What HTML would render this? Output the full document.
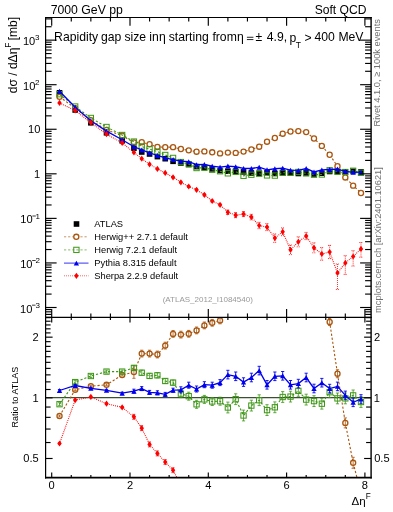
<!DOCTYPE html>
<html><head><meta charset="utf-8"><style>
html,body{margin:0;padding:0;background:#fff;width:393px;height:512px;overflow:hidden}
svg{display:block;will-change:transform}
text{font-family:'Liberation Sans',sans-serif}
</style></head><body>
<svg width="393" height="512" viewBox="0 0 393 512">
<rect width="393" height="512" fill="#fff"/>
<defs><clipPath id="cm"><rect x="45.5" y="17.3" width="325.6" height="300.1"/></clipPath><clipPath id="cr"><rect x="45.5" y="317.4" width="325.6" height="160.2"/></clipPath></defs>
<rect x="56.73" y="90" width="5.6" height="5.6" fill="#000"/>
<rect x="72.39" y="107.2" width="5.6" height="5.6" fill="#000"/>
<rect x="88.05" y="120" width="5.6" height="5.6" fill="#000"/>
<rect x="103.71" y="130" width="5.6" height="5.6" fill="#000"/>
<rect x="119.37" y="138" width="5.6" height="5.6" fill="#000"/>
<rect x="131.12" y="145.4" width="5.6" height="5.6" fill="#000"/>
<rect x="138.94" y="149.2" width="5.6" height="5.6" fill="#000"/>
<rect x="146.77" y="151.2" width="5.6" height="5.6" fill="#000"/>
<rect x="154.6" y="153.8" width="5.6" height="5.6" fill="#000"/>
<rect x="162.44" y="155.9" width="5.6" height="5.6" fill="#000"/>
<rect x="170.26" y="158.5" width="5.6" height="5.6" fill="#000"/>
<rect x="178.09" y="160.2" width="5.6" height="5.6" fill="#000"/>
<rect x="185.93" y="161.7" width="5.6" height="5.6" fill="#000"/>
<rect x="193.75" y="163.8" width="5.6" height="5.6" fill="#000"/>
<rect x="201.58" y="164.6" width="5.6" height="5.6" fill="#000"/>
<rect x="209.41" y="166.1" width="5.6" height="5.6" fill="#000"/>
<rect x="217.25" y="167.7" width="5.6" height="5.6" fill="#000"/>
<rect x="225.07" y="168.4" width="5.6" height="5.6" fill="#000"/>
<rect x="232.9" y="168.7" width="5.6" height="5.6" fill="#000"/>
<rect x="240.74" y="169.1" width="5.6" height="5.6" fill="#000"/>
<rect x="248.56" y="170.2" width="5.6" height="5.6" fill="#000"/>
<rect x="256.39" y="170.4" width="5.6" height="5.6" fill="#000"/>
<rect x="264.22" y="169.9" width="5.6" height="5.6" fill="#000"/>
<rect x="272.06" y="170.7" width="5.6" height="5.6" fill="#000"/>
<rect x="279.88" y="170.2" width="5.6" height="5.6" fill="#000"/>
<rect x="287.71" y="170.2" width="5.6" height="5.6" fill="#000"/>
<rect x="295.54" y="170.7" width="5.6" height="5.6" fill="#000"/>
<rect x="303.38" y="170.2" width="5.6" height="5.6" fill="#000"/>
<rect x="311.2" y="171.2" width="5.6" height="5.6" fill="#000"/>
<rect x="319.03" y="170.4" width="5.6" height="5.6" fill="#000"/>
<rect x="326.86" y="168.7" width="5.6" height="5.6" fill="#000"/>
<rect x="334.69" y="168.8" width="5.6" height="5.6" fill="#000"/>
<rect x="342.52" y="169.1" width="5.6" height="5.6" fill="#000"/>
<rect x="350.35" y="168.5" width="5.6" height="5.6" fill="#000"/>
<rect x="358.19" y="169.1" width="5.6" height="5.6" fill="#000"/>
<g clip-path="url(#cm)">
<path d="M59.53,96.82 L75.19,108.2 L90.85,120.23 L106.51,129.92 L122.17,135.75 L133.92,142.51 L141.75,142.22 L149.57,144.22 L157.41,147.02 L165.24,147.15 L173.06,147.16 L180.89,149.02 L188.73,150.34 L196.56,151.69 L204.38,151.38 L212.21,152.31 L220.05,153.38 L227.88,152.6 L235.7,152.9 L243.54,151.6 L251.37,149.5 L259.19,146.7 L267.02,141.7 L274.86,138 L282.69,133.7 L290.51,131.5 L298.34,131.1 L306.18,132.1 L314,138.5 L321.83,145.9 L329.66,154.73 L337.49,166.26 L345.32,177.44 L353.15,185.67 L360.99,193" fill="none" stroke="#a9560f" stroke-width="1.1" stroke-dasharray="2.2,1.9"/>
<circle cx="59.53" cy="96.82" r="2.55" fill="#fff" stroke="#a9560f" stroke-width="1.3"/>
<circle cx="75.19" cy="108.2" r="2.55" fill="#fff" stroke="#a9560f" stroke-width="1.3"/>
<circle cx="90.85" cy="120.23" r="2.55" fill="#fff" stroke="#a9560f" stroke-width="1.3"/>
<circle cx="106.51" cy="129.92" r="2.55" fill="#fff" stroke="#a9560f" stroke-width="1.3"/>
<circle cx="122.17" cy="135.75" r="2.55" fill="#fff" stroke="#a9560f" stroke-width="1.3"/>
<circle cx="133.92" cy="142.51" r="2.55" fill="#fff" stroke="#a9560f" stroke-width="1.3"/>
<circle cx="141.75" cy="142.22" r="2.55" fill="#fff" stroke="#a9560f" stroke-width="1.3"/>
<circle cx="149.57" cy="144.22" r="2.55" fill="#fff" stroke="#a9560f" stroke-width="1.3"/>
<circle cx="157.41" cy="147.02" r="2.55" fill="#fff" stroke="#a9560f" stroke-width="1.3"/>
<circle cx="165.24" cy="147.15" r="2.55" fill="#fff" stroke="#a9560f" stroke-width="1.3"/>
<circle cx="173.06" cy="147.16" r="2.55" fill="#fff" stroke="#a9560f" stroke-width="1.3"/>
<circle cx="180.89" cy="149.02" r="2.55" fill="#fff" stroke="#a9560f" stroke-width="1.3"/>
<circle cx="188.73" cy="150.34" r="2.55" fill="#fff" stroke="#a9560f" stroke-width="1.3"/>
<circle cx="196.56" cy="151.69" r="2.55" fill="#fff" stroke="#a9560f" stroke-width="1.3"/>
<circle cx="204.38" cy="151.38" r="2.55" fill="#fff" stroke="#a9560f" stroke-width="1.3"/>
<circle cx="212.21" cy="152.31" r="2.55" fill="#fff" stroke="#a9560f" stroke-width="1.3"/>
<circle cx="220.05" cy="153.38" r="2.55" fill="#fff" stroke="#a9560f" stroke-width="1.3"/>
<circle cx="227.88" cy="152.6" r="2.55" fill="#fff" stroke="#a9560f" stroke-width="1.3"/>
<circle cx="235.7" cy="152.9" r="2.55" fill="#fff" stroke="#a9560f" stroke-width="1.3"/>
<circle cx="243.54" cy="151.6" r="2.55" fill="#fff" stroke="#a9560f" stroke-width="1.3"/>
<circle cx="251.37" cy="149.5" r="2.55" fill="#fff" stroke="#a9560f" stroke-width="1.3"/>
<circle cx="259.19" cy="146.7" r="2.55" fill="#fff" stroke="#a9560f" stroke-width="1.3"/>
<circle cx="267.02" cy="141.7" r="2.55" fill="#fff" stroke="#a9560f" stroke-width="1.3"/>
<circle cx="274.86" cy="138" r="2.55" fill="#fff" stroke="#a9560f" stroke-width="1.3"/>
<circle cx="282.69" cy="133.7" r="2.55" fill="#fff" stroke="#a9560f" stroke-width="1.3"/>
<circle cx="290.51" cy="131.5" r="2.55" fill="#fff" stroke="#a9560f" stroke-width="1.3"/>
<circle cx="298.34" cy="131.1" r="2.55" fill="#fff" stroke="#a9560f" stroke-width="1.3"/>
<circle cx="306.18" cy="132.1" r="2.55" fill="#fff" stroke="#a9560f" stroke-width="1.3"/>
<circle cx="314" cy="138.5" r="2.55" fill="#fff" stroke="#a9560f" stroke-width="1.3"/>
<circle cx="321.83" cy="145.9" r="2.55" fill="#fff" stroke="#a9560f" stroke-width="1.3"/>
<circle cx="329.66" cy="154.73" r="2.55" fill="#fff" stroke="#a9560f" stroke-width="1.3"/>
<circle cx="337.49" cy="166.26" r="2.55" fill="#fff" stroke="#a9560f" stroke-width="1.3"/>
<circle cx="345.32" cy="177.44" r="2.55" fill="#fff" stroke="#a9560f" stroke-width="1.3"/>
<circle cx="353.15" cy="185.67" r="2.55" fill="#fff" stroke="#a9560f" stroke-width="1.3"/>
<circle cx="360.99" cy="193" r="2.55" fill="#fff" stroke="#a9560f" stroke-width="1.3"/>
</g>
<g clip-path="url(#cm)">
<path d="M59.53,94.21 L75.19,106.52 L90.85,117.97 L106.51,127 L122.17,135 L133.92,141.58 L141.75,146.44 L149.57,149.15 L157.41,151.62 L165.24,154.98 L173.06,157.93 L180.89,162.06 L188.73,164.14 L196.56,168.03 L204.38,167.75 L212.21,169.71 L220.05,171.25 L227.88,173.34 L235.7,171.8 L243.54,175.81 L251.37,174.72 L259.19,173.72 L267.02,175.41 L274.86,175.59 L282.69,172.82 L290.51,172.73 L298.34,171.97 L306.18,173.39 L314,174.72 L321.83,174.5 L329.66,170.25 L337.49,171.73 L345.32,172.03 L353.15,170.76 L360.99,172.82" fill="none" stroke="#3c9614" stroke-width="1.1" stroke-dasharray="2.2,1.9"/>
<rect x="56.88" y="91.56" width="5.3" height="5.3" fill="none" stroke="#3c9614" stroke-width="1.0"/>
<rect x="72.54" y="103.87" width="5.3" height="5.3" fill="none" stroke="#3c9614" stroke-width="1.0"/>
<rect x="88.2" y="115.32" width="5.3" height="5.3" fill="none" stroke="#3c9614" stroke-width="1.0"/>
<rect x="103.86" y="124.35" width="5.3" height="5.3" fill="none" stroke="#3c9614" stroke-width="1.0"/>
<rect x="119.52" y="132.35" width="5.3" height="5.3" fill="none" stroke="#3c9614" stroke-width="1.0"/>
<rect x="131.27" y="138.93" width="5.3" height="5.3" fill="none" stroke="#3c9614" stroke-width="1.0"/>
<rect x="139.09" y="143.79" width="5.3" height="5.3" fill="none" stroke="#3c9614" stroke-width="1.0"/>
<rect x="146.92" y="146.5" width="5.3" height="5.3" fill="none" stroke="#3c9614" stroke-width="1.0"/>
<rect x="154.75" y="148.97" width="5.3" height="5.3" fill="none" stroke="#3c9614" stroke-width="1.0"/>
<rect x="162.59" y="152.33" width="5.3" height="5.3" fill="none" stroke="#3c9614" stroke-width="1.0"/>
<rect x="170.41" y="155.28" width="5.3" height="5.3" fill="none" stroke="#3c9614" stroke-width="1.0"/>
<rect x="178.24" y="159.41" width="5.3" height="5.3" fill="none" stroke="#3c9614" stroke-width="1.0"/>
<rect x="186.08" y="161.49" width="5.3" height="5.3" fill="none" stroke="#3c9614" stroke-width="1.0"/>
<rect x="193.91" y="165.38" width="5.3" height="5.3" fill="none" stroke="#3c9614" stroke-width="1.0"/>
<rect x="201.73" y="165.1" width="5.3" height="5.3" fill="none" stroke="#3c9614" stroke-width="1.0"/>
<rect x="209.56" y="167.06" width="5.3" height="5.3" fill="none" stroke="#3c9614" stroke-width="1.0"/>
<rect x="217.4" y="168.6" width="5.3" height="5.3" fill="none" stroke="#3c9614" stroke-width="1.0"/>
<rect x="225.22" y="170.69" width="5.3" height="5.3" fill="none" stroke="#3c9614" stroke-width="1.0"/>
<rect x="233.05" y="169.15" width="5.3" height="5.3" fill="none" stroke="#3c9614" stroke-width="1.0"/>
<rect x="240.89" y="173.16" width="5.3" height="5.3" fill="none" stroke="#3c9614" stroke-width="1.0"/>
<rect x="248.72" y="172.07" width="5.3" height="5.3" fill="none" stroke="#3c9614" stroke-width="1.0"/>
<rect x="256.55" y="171.07" width="5.3" height="5.3" fill="none" stroke="#3c9614" stroke-width="1.0"/>
<rect x="264.38" y="172.76" width="5.3" height="5.3" fill="none" stroke="#3c9614" stroke-width="1.0"/>
<rect x="272.21" y="172.94" width="5.3" height="5.3" fill="none" stroke="#3c9614" stroke-width="1.0"/>
<rect x="280.04" y="170.17" width="5.3" height="5.3" fill="none" stroke="#3c9614" stroke-width="1.0"/>
<rect x="287.87" y="170.08" width="5.3" height="5.3" fill="none" stroke="#3c9614" stroke-width="1.0"/>
<rect x="295.69" y="169.32" width="5.3" height="5.3" fill="none" stroke="#3c9614" stroke-width="1.0"/>
<rect x="303.53" y="170.74" width="5.3" height="5.3" fill="none" stroke="#3c9614" stroke-width="1.0"/>
<rect x="311.36" y="172.07" width="5.3" height="5.3" fill="none" stroke="#3c9614" stroke-width="1.0"/>
<rect x="319.19" y="171.85" width="5.3" height="5.3" fill="none" stroke="#3c9614" stroke-width="1.0"/>
<rect x="327.01" y="167.6" width="5.3" height="5.3" fill="none" stroke="#3c9614" stroke-width="1.0"/>
<rect x="334.84" y="169.08" width="5.3" height="5.3" fill="none" stroke="#3c9614" stroke-width="1.0"/>
<rect x="342.68" y="169.38" width="5.3" height="5.3" fill="none" stroke="#3c9614" stroke-width="1.0"/>
<rect x="350.5" y="168.11" width="5.3" height="5.3" fill="none" stroke="#3c9614" stroke-width="1.0"/>
<rect x="358.34" y="170.17" width="5.3" height="5.3" fill="none" stroke="#3c9614" stroke-width="1.0"/>
</g>
<g clip-path="url(#cm)">
<path d="M59.53,91.18 L75.19,107.27 L90.85,120.69 L106.51,131.13 L122.17,139.78 L133.92,146.73 L141.75,149.96 L149.57,152.8 L157.41,155.49 L165.24,157.94 L173.06,159.61 L180.89,161.22 L188.73,161.71 L196.56,164.65 L204.38,164.5 L212.21,166.11 L220.05,167.13 L227.88,166.06 L235.7,166.74 L243.54,168.42 L251.37,168.5 L259.19,167.18 L267.02,169.82 L274.86,168.74 L282.69,168.13 L290.51,170.12 L298.34,170.35 L306.18,168.5 L314,171.94 L321.83,169.85 L329.66,169.46 L337.49,169.07 L345.32,171.36 L353.15,172.29 L360.99,172.16" fill="none" stroke="#0000ee" stroke-width="1.3"/>
<path d="M56.88,93.63 L62.18,93.63 L59.53,88.73 Z" fill="#0000ee"/>
<path d="M72.54,109.72 L77.84,109.72 L75.19,104.82 Z" fill="#0000ee"/>
<path d="M88.2,123.14 L93.5,123.14 L90.85,118.24 Z" fill="#0000ee"/>
<path d="M103.86,133.58 L109.16,133.58 L106.51,128.68 Z" fill="#0000ee"/>
<path d="M119.52,142.23 L124.82,142.23 L122.17,137.33 Z" fill="#0000ee"/>
<path d="M131.27,149.18 L136.57,149.18 L133.92,144.28 Z" fill="#0000ee"/>
<path d="M139.09,152.41 L144.4,152.41 L141.75,147.51 Z" fill="#0000ee"/>
<path d="M146.92,155.25 L152.22,155.25 L149.57,150.35 Z" fill="#0000ee"/>
<path d="M154.75,157.94 L160.06,157.94 L157.41,153.04 Z" fill="#0000ee"/>
<path d="M162.59,160.39 L167.89,160.39 L165.24,155.49 Z" fill="#0000ee"/>
<path d="M170.41,162.06 L175.72,162.06 L173.06,157.16 Z" fill="#0000ee"/>
<path d="M178.24,163.67 L183.54,163.67 L180.89,158.77 Z" fill="#0000ee"/>
<path d="M186.08,164.16 L191.38,164.16 L188.73,159.26 Z" fill="#0000ee"/>
<path d="M193.91,167.1 L199.21,167.1 L196.56,162.2 Z" fill="#0000ee"/>
<path d="M201.73,166.95 L207.03,166.95 L204.38,162.05 Z" fill="#0000ee"/>
<path d="M209.56,168.56 L214.86,168.56 L212.21,163.66 Z" fill="#0000ee"/>
<path d="M217.4,169.58 L222.7,169.58 L220.05,164.68 Z" fill="#0000ee"/>
<path d="M225.22,168.51 L230.53,168.51 L227.88,163.61 Z" fill="#0000ee"/>
<path d="M233.05,169.19 L238.35,169.19 L235.7,164.29 Z" fill="#0000ee"/>
<path d="M240.89,170.87 L246.19,170.87 L243.54,165.97 Z" fill="#0000ee"/>
<path d="M248.72,170.95 L254.02,170.95 L251.37,166.05 Z" fill="#0000ee"/>
<path d="M256.55,169.63 L261.84,169.63 L259.19,164.73 Z" fill="#0000ee"/>
<path d="M264.38,172.27 L269.67,172.27 L267.02,167.37 Z" fill="#0000ee"/>
<path d="M272.21,171.19 L277.5,171.19 L274.86,166.29 Z" fill="#0000ee"/>
<path d="M280.04,170.58 L285.33,170.58 L282.69,165.68 Z" fill="#0000ee"/>
<path d="M287.87,172.57 L293.16,172.57 L290.51,167.67 Z" fill="#0000ee"/>
<path d="M295.69,172.8 L300.99,172.8 L298.34,167.9 Z" fill="#0000ee"/>
<path d="M303.53,170.95 L308.82,170.95 L306.18,166.05 Z" fill="#0000ee"/>
<path d="M311.36,174.39 L316.65,174.39 L314,169.49 Z" fill="#0000ee"/>
<path d="M319.19,172.3 L324.48,172.3 L321.83,167.4 Z" fill="#0000ee"/>
<path d="M327.01,171.91 L332.31,171.91 L329.66,167.01 Z" fill="#0000ee"/>
<path d="M334.84,171.52 L340.14,171.52 L337.49,166.62 Z" fill="#0000ee"/>
<path d="M342.68,173.81 L347.97,173.81 L345.32,168.91 Z" fill="#0000ee"/>
<path d="M350.5,174.74 L355.8,174.74 L353.15,169.84 Z" fill="#0000ee"/>
<path d="M358.34,174.61 L363.63,174.61 L360.99,169.71 Z" fill="#0000ee"/>
</g>
<g clip-path="url(#cm)">
<path d="M59.53,102.9 L75.19,110.5 L90.85,122.6 L106.51,134.1 L122.17,142.9 L133.92,152.4 L141.75,158.7 L149.57,164.3 L157.41,168.9 L165.24,172.9 L173.06,177.3 L180.89,182.3 L188.73,186.5 L196.56,189.8 L204.38,194.8 L212.21,201 L220.05,204.8 L227.88,212.3 L235.7,215.2 L243.54,214.1 L251.37,217.1 L259.19,225.5 L267.02,227.1 L274.86,238.1 L282.69,231.8 L290.51,249.8 L298.34,241.8 L306.18,236 L314,247.8 L321.83,253.9 L329.66,252 L337.49,273 L345.32,262.9 L353.15,256.5 L360.99,248.9" fill="none" stroke="#ff0000" stroke-width="1.1" stroke-dasharray="0.9,1.1"/>
<path d="M59.53,99.8 L61.73,102.9 L59.53,106 L57.33,102.9 Z" fill="#ff0000"/>
<path d="M59.53,102.4 L59.53,103.4" stroke="#ff0000" stroke-width="0.9" fill="none" stroke-dasharray="0.9,1.1"/><path d="M57.93,102.4 L61.13,102.4 M57.93,103.4 L61.13,103.4" stroke="#ff0000" stroke-width="0.9" fill="none" stroke-dasharray="0.9,1.1"/>
<path d="M75.19,107.4 L77.39,110.5 L75.19,113.6 L72.99,110.5 Z" fill="#ff0000"/>
<path d="M75.19,110 L75.19,111" stroke="#ff0000" stroke-width="0.9" fill="none" stroke-dasharray="0.9,1.1"/><path d="M73.59,110 L76.79,110 M73.59,111 L76.79,111" stroke="#ff0000" stroke-width="0.9" fill="none" stroke-dasharray="0.9,1.1"/>
<path d="M90.85,119.5 L93.05,122.6 L90.85,125.7 L88.65,122.6 Z" fill="#ff0000"/>
<path d="M90.85,122.1 L90.85,123.1" stroke="#ff0000" stroke-width="0.9" fill="none" stroke-dasharray="0.9,1.1"/><path d="M89.25,122.1 L92.45,122.1 M89.25,123.1 L92.45,123.1" stroke="#ff0000" stroke-width="0.9" fill="none" stroke-dasharray="0.9,1.1"/>
<path d="M106.51,131 L108.71,134.1 L106.51,137.2 L104.31,134.1 Z" fill="#ff0000"/>
<path d="M106.51,133.6 L106.51,134.6" stroke="#ff0000" stroke-width="0.9" fill="none" stroke-dasharray="0.9,1.1"/><path d="M104.91,133.6 L108.11,133.6 M104.91,134.6 L108.11,134.6" stroke="#ff0000" stroke-width="0.9" fill="none" stroke-dasharray="0.9,1.1"/>
<path d="M122.17,139.8 L124.37,142.9 L122.17,146 L119.97,142.9 Z" fill="#ff0000"/>
<path d="M122.17,142.4 L122.17,143.4" stroke="#ff0000" stroke-width="0.9" fill="none" stroke-dasharray="0.9,1.1"/><path d="M120.57,142.4 L123.77,142.4 M120.57,143.4 L123.77,143.4" stroke="#ff0000" stroke-width="0.9" fill="none" stroke-dasharray="0.9,1.1"/>
<path d="M133.92,149.3 L136.12,152.4 L133.92,155.5 L131.72,152.4 Z" fill="#ff0000"/>
<path d="M133.92,151.9 L133.92,152.9" stroke="#ff0000" stroke-width="0.9" fill="none" stroke-dasharray="0.9,1.1"/><path d="M132.32,151.9 L135.52,151.9 M132.32,152.9 L135.52,152.9" stroke="#ff0000" stroke-width="0.9" fill="none" stroke-dasharray="0.9,1.1"/>
<path d="M141.75,155.6 L143.94,158.7 L141.75,161.8 L139.55,158.7 Z" fill="#ff0000"/>
<path d="M141.75,158.2 L141.75,159.2" stroke="#ff0000" stroke-width="0.9" fill="none" stroke-dasharray="0.9,1.1"/><path d="M140.15,158.2 L143.34,158.2 M140.15,159.2 L143.34,159.2" stroke="#ff0000" stroke-width="0.9" fill="none" stroke-dasharray="0.9,1.1"/>
<path d="M149.57,161.2 L151.77,164.3 L149.57,167.4 L147.38,164.3 Z" fill="#ff0000"/>
<path d="M149.57,163.8 L149.57,164.8" stroke="#ff0000" stroke-width="0.9" fill="none" stroke-dasharray="0.9,1.1"/><path d="M147.97,163.8 L151.17,163.8 M147.97,164.8 L151.17,164.8" stroke="#ff0000" stroke-width="0.9" fill="none" stroke-dasharray="0.9,1.1"/>
<path d="M157.41,165.8 L159.6,168.9 L157.41,172 L155.21,168.9 Z" fill="#ff0000"/>
<path d="M157.41,168.4 L157.41,169.4" stroke="#ff0000" stroke-width="0.9" fill="none" stroke-dasharray="0.9,1.1"/><path d="M155.81,168.4 L159,168.4 M155.81,169.4 L159,169.4" stroke="#ff0000" stroke-width="0.9" fill="none" stroke-dasharray="0.9,1.1"/>
<path d="M165.24,169.8 L167.44,172.9 L165.24,176 L163.04,172.9 Z" fill="#ff0000"/>
<path d="M165.24,172.4 L165.24,173.4" stroke="#ff0000" stroke-width="0.9" fill="none" stroke-dasharray="0.9,1.1"/><path d="M163.64,172.4 L166.84,172.4 M163.64,173.4 L166.84,173.4" stroke="#ff0000" stroke-width="0.9" fill="none" stroke-dasharray="0.9,1.1"/>
<path d="M173.06,174.2 L175.26,177.3 L173.06,180.4 L170.87,177.3 Z" fill="#ff0000"/>
<path d="M173.06,176.8 L173.06,177.8" stroke="#ff0000" stroke-width="0.9" fill="none" stroke-dasharray="0.9,1.1"/><path d="M171.47,176.8 L174.66,176.8 M171.47,177.8 L174.66,177.8" stroke="#ff0000" stroke-width="0.9" fill="none" stroke-dasharray="0.9,1.1"/>
<path d="M180.89,179.2 L183.09,182.3 L180.89,185.4 L178.69,182.3 Z" fill="#ff0000"/>
<path d="M180.89,181.3 L180.89,183.3" stroke="#ff0000" stroke-width="0.9" fill="none" stroke-dasharray="0.9,1.1"/><path d="M179.29,181.3 L182.49,181.3 M179.29,183.3 L182.49,183.3" stroke="#ff0000" stroke-width="0.9" fill="none" stroke-dasharray="0.9,1.1"/>
<path d="M188.73,183.4 L190.93,186.5 L188.73,189.6 L186.53,186.5 Z" fill="#ff0000"/>
<path d="M188.73,185.5 L188.73,187.5" stroke="#ff0000" stroke-width="0.9" fill="none" stroke-dasharray="0.9,1.1"/><path d="M187.13,185.5 L190.33,185.5 M187.13,187.5 L190.33,187.5" stroke="#ff0000" stroke-width="0.9" fill="none" stroke-dasharray="0.9,1.1"/>
<path d="M196.56,186.7 L198.75,189.8 L196.56,192.9 L194.36,189.8 Z" fill="#ff0000"/>
<path d="M196.56,188.8 L196.56,190.8" stroke="#ff0000" stroke-width="0.9" fill="none" stroke-dasharray="0.9,1.1"/><path d="M194.96,188.8 L198.16,188.8 M194.96,190.8 L198.16,190.8" stroke="#ff0000" stroke-width="0.9" fill="none" stroke-dasharray="0.9,1.1"/>
<path d="M204.38,191.7 L206.58,194.8 L204.38,197.9 L202.19,194.8 Z" fill="#ff0000"/>
<path d="M204.38,193.8 L204.38,195.8" stroke="#ff0000" stroke-width="0.9" fill="none" stroke-dasharray="0.9,1.1"/><path d="M202.78,193.8 L205.98,193.8 M202.78,195.8 L205.98,195.8" stroke="#ff0000" stroke-width="0.9" fill="none" stroke-dasharray="0.9,1.1"/>
<path d="M212.21,197.9 L214.41,201 L212.21,204.1 L210.01,201 Z" fill="#ff0000"/>
<path d="M212.21,200 L212.21,202" stroke="#ff0000" stroke-width="0.9" fill="none" stroke-dasharray="0.9,1.1"/><path d="M210.61,200 L213.81,200 M210.61,202 L213.81,202" stroke="#ff0000" stroke-width="0.9" fill="none" stroke-dasharray="0.9,1.1"/>
<path d="M220.05,201.7 L222.25,204.8 L220.05,207.9 L217.85,204.8 Z" fill="#ff0000"/>
<path d="M220.05,203.8 L220.05,205.8" stroke="#ff0000" stroke-width="0.9" fill="none" stroke-dasharray="0.9,1.1"/><path d="M218.45,203.8 L221.65,203.8 M218.45,205.8 L221.65,205.8" stroke="#ff0000" stroke-width="0.9" fill="none" stroke-dasharray="0.9,1.1"/>
<path d="M227.88,209.2 L230.07,212.3 L227.88,215.4 L225.68,212.3 Z" fill="#ff0000"/>
<path d="M227.88,210.1 L227.88,214.5" stroke="#ff0000" stroke-width="0.9" fill="none" stroke-dasharray="0.9,1.1"/><path d="M226.28,210.1 L229.47,210.1 M226.28,214.5 L229.47,214.5" stroke="#ff0000" stroke-width="0.9" fill="none" stroke-dasharray="0.9,1.1"/>
<path d="M235.7,212.1 L237.9,215.2 L235.7,218.3 L233.5,215.2 Z" fill="#ff0000"/>
<path d="M235.7,212.7 L235.7,217.7" stroke="#ff0000" stroke-width="0.9" fill="none" stroke-dasharray="0.9,1.1"/><path d="M234.1,212.7 L237.3,212.7 M234.1,217.7 L237.3,217.7" stroke="#ff0000" stroke-width="0.9" fill="none" stroke-dasharray="0.9,1.1"/>
<path d="M243.54,211 L245.74,214.1 L243.54,217.2 L241.34,214.1 Z" fill="#ff0000"/>
<path d="M243.54,211.6 L243.54,216.6" stroke="#ff0000" stroke-width="0.9" fill="none" stroke-dasharray="0.9,1.1"/><path d="M241.94,211.6 L245.14,211.6 M241.94,216.6 L245.14,216.6" stroke="#ff0000" stroke-width="0.9" fill="none" stroke-dasharray="0.9,1.1"/>
<path d="M251.37,214 L253.56,217.1 L251.37,220.2 L249.17,217.1 Z" fill="#ff0000"/>
<path d="M251.37,214.3 L251.37,219.9" stroke="#ff0000" stroke-width="0.9" fill="none" stroke-dasharray="0.9,1.1"/><path d="M249.77,214.3 L252.97,214.3 M249.77,219.9 L252.97,219.9" stroke="#ff0000" stroke-width="0.9" fill="none" stroke-dasharray="0.9,1.1"/>
<path d="M259.19,222.4 L261.39,225.5 L259.19,228.6 L257,225.5 Z" fill="#ff0000"/>
<path d="M259.19,222.3 L259.19,228.7" stroke="#ff0000" stroke-width="0.9" fill="none" stroke-dasharray="0.9,1.1"/><path d="M257.59,222.3 L260.8,222.3 M257.59,228.7 L260.8,228.7" stroke="#ff0000" stroke-width="0.9" fill="none" stroke-dasharray="0.9,1.1"/>
<path d="M267.02,224 L269.22,227.1 L267.02,230.2 L264.82,227.1 Z" fill="#ff0000"/>
<path d="M267.02,223.6 L267.02,230.6" stroke="#ff0000" stroke-width="0.9" fill="none" stroke-dasharray="0.9,1.1"/><path d="M265.42,223.6 L268.62,223.6 M265.42,230.6 L268.62,230.6" stroke="#ff0000" stroke-width="0.9" fill="none" stroke-dasharray="0.9,1.1"/>
<path d="M274.86,235 L277.06,238.1 L274.86,241.2 L272.66,238.1 Z" fill="#ff0000"/>
<path d="M274.86,233.9 L274.86,242.3" stroke="#ff0000" stroke-width="0.9" fill="none" stroke-dasharray="0.9,1.1"/><path d="M273.25,233.9 L276.46,233.9 M273.25,242.3 L276.46,242.3" stroke="#ff0000" stroke-width="0.9" fill="none" stroke-dasharray="0.9,1.1"/>
<path d="M282.69,228.7 L284.88,231.8 L282.69,234.9 L280.49,231.8 Z" fill="#ff0000"/>
<path d="M282.69,227.9 L282.69,235.7" stroke="#ff0000" stroke-width="0.9" fill="none" stroke-dasharray="0.9,1.1"/><path d="M281.08,227.9 L284.29,227.9 M281.08,235.7 L284.29,235.7" stroke="#ff0000" stroke-width="0.9" fill="none" stroke-dasharray="0.9,1.1"/>
<path d="M290.51,246.7 L292.71,249.8 L290.51,252.9 L288.31,249.8 Z" fill="#ff0000"/>
<path d="M290.51,245 L290.51,254.6" stroke="#ff0000" stroke-width="0.9" fill="none" stroke-dasharray="0.9,1.1"/><path d="M288.91,245 L292.12,245 M288.91,254.6 L292.12,254.6" stroke="#ff0000" stroke-width="0.9" fill="none" stroke-dasharray="0.9,1.1"/>
<path d="M298.34,238.7 L300.54,241.8 L298.34,244.9 L296.14,241.8 Z" fill="#ff0000"/>
<path d="M298.34,236.8 L298.34,246.8" stroke="#ff0000" stroke-width="0.9" fill="none" stroke-dasharray="0.9,1.1"/><path d="M296.74,236.8 L299.94,236.8 M296.74,246.8 L299.94,246.8" stroke="#ff0000" stroke-width="0.9" fill="none" stroke-dasharray="0.9,1.1"/>
<path d="M306.18,232.9 L308.38,236 L306.18,239.1 L303.98,236 Z" fill="#ff0000"/>
<path d="M306.18,232.4 L306.18,239.6" stroke="#ff0000" stroke-width="0.9" fill="none" stroke-dasharray="0.9,1.1"/><path d="M304.57,232.4 L307.78,232.4 M304.57,239.6 L307.78,239.6" stroke="#ff0000" stroke-width="0.9" fill="none" stroke-dasharray="0.9,1.1"/>
<path d="M314,244.7 L316.2,247.8 L314,250.9 L311.81,247.8 Z" fill="#ff0000"/>
<path d="M314,242.8 L314,252.8" stroke="#ff0000" stroke-width="0.9" fill="none" stroke-dasharray="0.9,1.1"/><path d="M312.4,242.8 L315.61,242.8 M312.4,252.8 L315.61,252.8" stroke="#ff0000" stroke-width="0.9" fill="none" stroke-dasharray="0.9,1.1"/>
<path d="M321.83,250.8 L324.03,253.9 L321.83,257 L319.63,253.9 Z" fill="#ff0000"/>
<path d="M321.83,247.6 L321.83,260.2" stroke="#ff0000" stroke-width="0.9" fill="none" stroke-dasharray="0.9,1.1"/><path d="M320.23,247.6 L323.44,247.6 M320.23,260.2 L323.44,260.2" stroke="#ff0000" stroke-width="0.9" fill="none" stroke-dasharray="0.9,1.1"/>
<path d="M329.66,248.9 L331.86,252 L329.66,255.1 L327.46,252 Z" fill="#ff0000"/>
<path d="M329.66,245.4 L329.66,258.6" stroke="#ff0000" stroke-width="0.9" fill="none" stroke-dasharray="0.9,1.1"/><path d="M328.06,245.4 L331.26,245.4 M328.06,258.6 L331.26,258.6" stroke="#ff0000" stroke-width="0.9" fill="none" stroke-dasharray="0.9,1.1"/>
<path d="M337.49,269.9 L339.69,273 L337.49,276.1 L335.29,273 Z" fill="#ff0000"/>
<path d="M337.49,264 L337.49,289.5" stroke="#ff0000" stroke-width="0.9" fill="none" stroke-dasharray="0.9,1.1"/><path d="M335.89,264 L339.09,264 M335.89,289.5 L339.09,289.5" stroke="#ff0000" stroke-width="0.9" fill="none" stroke-dasharray="0.9,1.1"/>
<path d="M345.32,259.8 L347.52,262.9 L345.32,266 L343.12,262.9 Z" fill="#ff0000"/>
<path d="M345.32,255.7 L345.32,274.4" stroke="#ff0000" stroke-width="0.9" fill="none" stroke-dasharray="0.9,1.1"/><path d="M343.72,255.7 L346.93,255.7 M343.72,274.4 L346.93,274.4" stroke="#ff0000" stroke-width="0.9" fill="none" stroke-dasharray="0.9,1.1"/>
<path d="M353.15,253.4 L355.35,256.5 L353.15,259.6 L350.95,256.5 Z" fill="#ff0000"/>
<path d="M353.15,250.7 L353.15,266.1" stroke="#ff0000" stroke-width="0.9" fill="none" stroke-dasharray="0.9,1.1"/><path d="M351.55,250.7 L354.75,250.7 M351.55,266.1 L354.75,266.1" stroke="#ff0000" stroke-width="0.9" fill="none" stroke-dasharray="0.9,1.1"/>
<path d="M360.99,245.8 L363.19,248.9 L360.99,252 L358.79,248.9 Z" fill="#ff0000"/>
<path d="M360.99,242.5 L360.99,257.2" stroke="#ff0000" stroke-width="0.9" fill="none" stroke-dasharray="0.9,1.1"/><path d="M359.38,242.5 L362.59,242.5 M359.38,257.2 L362.59,257.2" stroke="#ff0000" stroke-width="0.9" fill="none" stroke-dasharray="0.9,1.1"/>
</g>
<line x1="45.5" y1="397.6" x2="371" y2="397.6" stroke="#3a5030" stroke-width="1.3"/>
<g clip-path="url(#cr)">
<path d="M59.53,416 L75.19,389.7 L90.85,386.2 L106.51,384.8 L122.17,375 L133.92,372.1 L141.75,353.6 L149.57,353.6 L157.41,354.5 L165.24,345.6 L173.06,333.9 L180.89,334.6 L188.73,333.8 L196.56,330.4 L204.38,325.4 L212.21,322.8 L220.05,320.4 L227.88,313.72 L235.7,313.72 L243.54,306.03 L251.37,291.56 L259.19,278 L267.02,257.65 L274.86,237.3 L282.69,220.12 L290.51,210.17 L298.34,206.1 L306.18,212.88 L314,237.3 L321.83,274.38 L329.66,322 L337.49,373.7 L345.32,422.9 L353.15,462.8 L360.99,493.24" fill="none" stroke="#a9560f" stroke-width="1.1" stroke-dasharray="2.2,1.9"/>
<circle cx="59.53" cy="416" r="2.55" fill="#fff" stroke="#a9560f" stroke-width="1.3"/>
<path d="M59.53,415 L59.53,417" stroke="#a9560f" stroke-width="0.8" fill="none"/><path d="M57.93,415 L61.13,415 M57.93,417 L61.13,417" stroke="#a9560f" stroke-width="0.8" fill="none"/>
<circle cx="75.19" cy="389.7" r="2.55" fill="#fff" stroke="#a9560f" stroke-width="1.3"/>
<path d="M75.19,388.7 L75.19,390.7" stroke="#a9560f" stroke-width="0.8" fill="none"/><path d="M73.59,388.7 L76.79,388.7 M73.59,390.7 L76.79,390.7" stroke="#a9560f" stroke-width="0.8" fill="none"/>
<circle cx="90.85" cy="386.2" r="2.55" fill="#fff" stroke="#a9560f" stroke-width="1.3"/>
<path d="M90.85,385.2 L90.85,387.2" stroke="#a9560f" stroke-width="0.8" fill="none"/><path d="M89.25,385.2 L92.45,385.2 M89.25,387.2 L92.45,387.2" stroke="#a9560f" stroke-width="0.8" fill="none"/>
<circle cx="106.51" cy="384.8" r="2.55" fill="#fff" stroke="#a9560f" stroke-width="1.3"/>
<path d="M106.51,383.8 L106.51,385.8" stroke="#a9560f" stroke-width="0.8" fill="none"/><path d="M104.91,383.8 L108.11,383.8 M104.91,385.8 L108.11,385.8" stroke="#a9560f" stroke-width="0.8" fill="none"/>
<circle cx="122.17" cy="375" r="2.55" fill="#fff" stroke="#a9560f" stroke-width="1.3"/>
<path d="M122.17,374 L122.17,376" stroke="#a9560f" stroke-width="0.8" fill="none"/><path d="M120.57,374 L123.77,374 M120.57,376 L123.77,376" stroke="#a9560f" stroke-width="0.8" fill="none"/>
<circle cx="133.92" cy="372.1" r="2.55" fill="#fff" stroke="#a9560f" stroke-width="1.3"/>
<path d="M133.92,365.9 L133.92,378.3" stroke="#a9560f" stroke-width="0.8" fill="none"/><path d="M132.32,365.9 L135.52,365.9 M132.32,378.3 L135.52,378.3" stroke="#a9560f" stroke-width="0.8" fill="none"/>
<circle cx="141.75" cy="353.6" r="2.55" fill="#fff" stroke="#a9560f" stroke-width="1.3"/>
<path d="M141.75,350.2 L141.75,357" stroke="#a9560f" stroke-width="0.8" fill="none"/><path d="M140.15,350.2 L143.34,350.2 M140.15,357 L143.34,357" stroke="#a9560f" stroke-width="0.8" fill="none"/>
<circle cx="149.57" cy="353.6" r="2.55" fill="#fff" stroke="#a9560f" stroke-width="1.3"/>
<path d="M149.57,350.2 L149.57,357" stroke="#a9560f" stroke-width="0.8" fill="none"/><path d="M147.97,350.2 L151.17,350.2 M147.97,357 L151.17,357" stroke="#a9560f" stroke-width="0.8" fill="none"/>
<circle cx="157.41" cy="354.5" r="2.55" fill="#fff" stroke="#a9560f" stroke-width="1.3"/>
<path d="M157.41,351.1 L157.41,357.9" stroke="#a9560f" stroke-width="0.8" fill="none"/><path d="M155.81,351.1 L159,351.1 M155.81,357.9 L159,357.9" stroke="#a9560f" stroke-width="0.8" fill="none"/>
<circle cx="165.24" cy="345.6" r="2.55" fill="#fff" stroke="#a9560f" stroke-width="1.3"/>
<path d="M165.24,342.2 L165.24,349" stroke="#a9560f" stroke-width="0.8" fill="none"/><path d="M163.64,342.2 L166.84,342.2 M163.64,349 L166.84,349" stroke="#a9560f" stroke-width="0.8" fill="none"/>
<circle cx="173.06" cy="333.9" r="2.55" fill="#fff" stroke="#a9560f" stroke-width="1.3"/>
<path d="M173.06,330.5 L173.06,337.3" stroke="#a9560f" stroke-width="0.8" fill="none"/><path d="M171.47,330.5 L174.66,330.5 M171.47,337.3 L174.66,337.3" stroke="#a9560f" stroke-width="0.8" fill="none"/>
<circle cx="180.89" cy="334.6" r="2.55" fill="#fff" stroke="#a9560f" stroke-width="1.3"/>
<path d="M180.89,331.2 L180.89,338" stroke="#a9560f" stroke-width="0.8" fill="none"/><path d="M179.29,331.2 L182.49,331.2 M179.29,338 L182.49,338" stroke="#a9560f" stroke-width="0.8" fill="none"/>
<circle cx="188.73" cy="333.8" r="2.55" fill="#fff" stroke="#a9560f" stroke-width="1.3"/>
<path d="M188.73,330.4 L188.73,337.2" stroke="#a9560f" stroke-width="0.8" fill="none"/><path d="M187.13,330.4 L190.33,330.4 M187.13,337.2 L190.33,337.2" stroke="#a9560f" stroke-width="0.8" fill="none"/>
<circle cx="196.56" cy="330.4" r="2.55" fill="#fff" stroke="#a9560f" stroke-width="1.3"/>
<path d="M196.56,327 L196.56,333.8" stroke="#a9560f" stroke-width="0.8" fill="none"/><path d="M194.96,327 L198.16,327 M194.96,333.8 L198.16,333.8" stroke="#a9560f" stroke-width="0.8" fill="none"/>
<circle cx="204.38" cy="325.4" r="2.55" fill="#fff" stroke="#a9560f" stroke-width="1.3"/>
<path d="M204.38,322 L204.38,328.8" stroke="#a9560f" stroke-width="0.8" fill="none"/><path d="M202.78,322 L205.98,322 M202.78,328.8 L205.98,328.8" stroke="#a9560f" stroke-width="0.8" fill="none"/>
<circle cx="212.21" cy="322.8" r="2.55" fill="#fff" stroke="#a9560f" stroke-width="1.3"/>
<path d="M212.21,319.4 L212.21,326.2" stroke="#a9560f" stroke-width="0.8" fill="none"/><path d="M210.61,319.4 L213.81,319.4 M210.61,326.2 L213.81,326.2" stroke="#a9560f" stroke-width="0.8" fill="none"/>
<circle cx="220.05" cy="320.4" r="2.55" fill="#fff" stroke="#a9560f" stroke-width="1.3"/>
<path d="M220.05,317 L220.05,323.8" stroke="#a9560f" stroke-width="0.8" fill="none"/><path d="M218.45,317 L221.65,317 M218.45,323.8 L221.65,323.8" stroke="#a9560f" stroke-width="0.8" fill="none"/>
<circle cx="329.66" cy="322" r="2.55" fill="#fff" stroke="#a9560f" stroke-width="1.3"/>
<path d="M329.66,318.5 L329.66,325.5" stroke="#a9560f" stroke-width="0.8" fill="none"/><path d="M328.06,318.5 L331.26,318.5 M328.06,325.5 L331.26,325.5" stroke="#a9560f" stroke-width="0.8" fill="none"/>
<circle cx="337.49" cy="373.7" r="2.55" fill="#fff" stroke="#a9560f" stroke-width="1.3"/>
<path d="M337.49,369.7 L337.49,377.7" stroke="#a9560f" stroke-width="0.8" fill="none"/><path d="M335.89,369.7 L339.09,369.7 M335.89,377.7 L339.09,377.7" stroke="#a9560f" stroke-width="0.8" fill="none"/>
<circle cx="345.32" cy="422.9" r="2.55" fill="#fff" stroke="#a9560f" stroke-width="1.3"/>
<path d="M345.32,417.9 L345.32,427.9" stroke="#a9560f" stroke-width="0.8" fill="none"/><path d="M343.72,417.9 L346.93,417.9 M343.72,427.9 L346.93,427.9" stroke="#a9560f" stroke-width="0.8" fill="none"/>
<circle cx="353.15" cy="462.8" r="2.55" fill="#fff" stroke="#a9560f" stroke-width="1.3"/>
<path d="M353.15,457.3 L353.15,468.3" stroke="#a9560f" stroke-width="0.8" fill="none"/><path d="M351.55,457.3 L354.75,457.3 M351.55,468.3 L354.75,468.3" stroke="#a9560f" stroke-width="0.8" fill="none"/>
<path d="M360.99,487.24 L360.99,499.24" stroke="#a9560f" stroke-width="0.8" fill="none"/><path d="M359.38,487.24 L362.59,487.24 M359.38,499.24 L362.59,499.24" stroke="#a9560f" stroke-width="0.8" fill="none"/>
</g>
<g clip-path="url(#cr)">
<path d="M59.53,404.2 L75.19,382.1 L90.85,376 L106.51,371.6 L122.17,371.6 L133.92,367.9 L141.75,372.7 L149.57,375.9 L157.41,375.3 L165.24,381 L173.06,382.6 L180.89,393.6 L188.73,396.2 L196.56,404.3 L204.38,399.4 L212.21,401.5 L220.05,401.2 L227.88,407.5 L235.7,399.2 L243.54,415.5 L251.37,405.6 L259.19,400.2 L267.02,410.1 L274.86,407.3 L282.69,397 L290.51,396.6 L298.34,390.9 L306.18,399.6 L314,401.1 L321.83,403.7 L329.66,392.2 L337.49,398.4 L345.32,398.4 L353.15,395.4 L360.99,402" fill="none" stroke="#3c9614" stroke-width="1.1" stroke-dasharray="2.2,1.9"/>
<rect x="56.88" y="401.55" width="5.3" height="5.3" fill="none" stroke="#3c9614" stroke-width="1.0"/>
<path d="M59.53,402.7 L59.53,405.7" stroke="#3c9614" stroke-width="0.8" fill="none"/><path d="M57.93,402.7 L61.13,402.7 M57.93,405.7 L61.13,405.7" stroke="#3c9614" stroke-width="0.8" fill="none"/>
<rect x="72.54" y="379.45" width="5.3" height="5.3" fill="none" stroke="#3c9614" stroke-width="1.0"/>
<path d="M75.19,380.6 L75.19,383.6" stroke="#3c9614" stroke-width="0.8" fill="none"/><path d="M73.59,380.6 L76.79,380.6 M73.59,383.6 L76.79,383.6" stroke="#3c9614" stroke-width="0.8" fill="none"/>
<rect x="88.2" y="373.35" width="5.3" height="5.3" fill="none" stroke="#3c9614" stroke-width="1.0"/>
<path d="M90.85,374.5 L90.85,377.5" stroke="#3c9614" stroke-width="0.8" fill="none"/><path d="M89.25,374.5 L92.45,374.5 M89.25,377.5 L92.45,377.5" stroke="#3c9614" stroke-width="0.8" fill="none"/>
<rect x="103.86" y="368.95" width="5.3" height="5.3" fill="none" stroke="#3c9614" stroke-width="1.0"/>
<path d="M106.51,370.1 L106.51,373.1" stroke="#3c9614" stroke-width="0.8" fill="none"/><path d="M104.91,370.1 L108.11,370.1 M104.91,373.1 L108.11,373.1" stroke="#3c9614" stroke-width="0.8" fill="none"/>
<rect x="119.52" y="368.95" width="5.3" height="5.3" fill="none" stroke="#3c9614" stroke-width="1.0"/>
<path d="M122.17,370.1 L122.17,373.1" stroke="#3c9614" stroke-width="0.8" fill="none"/><path d="M120.57,370.1 L123.77,370.1 M120.57,373.1 L123.77,373.1" stroke="#3c9614" stroke-width="0.8" fill="none"/>
<rect x="131.27" y="365.25" width="5.3" height="5.3" fill="none" stroke="#3c9614" stroke-width="1.0"/>
<path d="M133.92,365.4 L133.92,370.4" stroke="#3c9614" stroke-width="0.8" fill="none"/><path d="M132.32,365.4 L135.52,365.4 M132.32,370.4 L135.52,370.4" stroke="#3c9614" stroke-width="0.8" fill="none"/>
<rect x="139.09" y="370.05" width="5.3" height="5.3" fill="none" stroke="#3c9614" stroke-width="1.0"/>
<path d="M141.75,370.2 L141.75,375.2" stroke="#3c9614" stroke-width="0.8" fill="none"/><path d="M140.15,370.2 L143.34,370.2 M140.15,375.2 L143.34,375.2" stroke="#3c9614" stroke-width="0.8" fill="none"/>
<rect x="146.92" y="373.25" width="5.3" height="5.3" fill="none" stroke="#3c9614" stroke-width="1.0"/>
<path d="M149.57,373.4 L149.57,378.4" stroke="#3c9614" stroke-width="0.8" fill="none"/><path d="M147.97,373.4 L151.17,373.4 M147.97,378.4 L151.17,378.4" stroke="#3c9614" stroke-width="0.8" fill="none"/>
<rect x="154.75" y="372.65" width="5.3" height="5.3" fill="none" stroke="#3c9614" stroke-width="1.0"/>
<path d="M157.41,372.8 L157.41,377.8" stroke="#3c9614" stroke-width="0.8" fill="none"/><path d="M155.81,372.8 L159,372.8 M155.81,377.8 L159,377.8" stroke="#3c9614" stroke-width="0.8" fill="none"/>
<rect x="162.59" y="378.35" width="5.3" height="5.3" fill="none" stroke="#3c9614" stroke-width="1.0"/>
<path d="M165.24,378.5 L165.24,383.5" stroke="#3c9614" stroke-width="0.8" fill="none"/><path d="M163.64,378.5 L166.84,378.5 M163.64,383.5 L166.84,383.5" stroke="#3c9614" stroke-width="0.8" fill="none"/>
<rect x="170.41" y="379.95" width="5.3" height="5.3" fill="none" stroke="#3c9614" stroke-width="1.0"/>
<path d="M173.06,380.1 L173.06,385.1" stroke="#3c9614" stroke-width="0.8" fill="none"/><path d="M171.47,380.1 L174.66,380.1 M171.47,385.1 L174.66,385.1" stroke="#3c9614" stroke-width="0.8" fill="none"/>
<rect x="178.24" y="390.95" width="5.3" height="5.3" fill="none" stroke="#3c9614" stroke-width="1.0"/>
<path d="M180.89,389.6 L180.89,397.6" stroke="#3c9614" stroke-width="0.8" fill="none"/><path d="M179.29,389.6 L182.49,389.6 M179.29,397.6 L182.49,397.6" stroke="#3c9614" stroke-width="0.8" fill="none"/>
<rect x="186.08" y="393.55" width="5.3" height="5.3" fill="none" stroke="#3c9614" stroke-width="1.0"/>
<path d="M188.73,392.2 L188.73,400.2" stroke="#3c9614" stroke-width="0.8" fill="none"/><path d="M187.13,392.2 L190.33,392.2 M187.13,400.2 L190.33,400.2" stroke="#3c9614" stroke-width="0.8" fill="none"/>
<rect x="193.91" y="401.65" width="5.3" height="5.3" fill="none" stroke="#3c9614" stroke-width="1.0"/>
<path d="M196.56,400.3 L196.56,408.3" stroke="#3c9614" stroke-width="0.8" fill="none"/><path d="M194.96,400.3 L198.16,400.3 M194.96,408.3 L198.16,408.3" stroke="#3c9614" stroke-width="0.8" fill="none"/>
<rect x="201.73" y="396.75" width="5.3" height="5.3" fill="none" stroke="#3c9614" stroke-width="1.0"/>
<path d="M204.38,395.4 L204.38,403.4" stroke="#3c9614" stroke-width="0.8" fill="none"/><path d="M202.78,395.4 L205.98,395.4 M202.78,403.4 L205.98,403.4" stroke="#3c9614" stroke-width="0.8" fill="none"/>
<rect x="209.56" y="398.85" width="5.3" height="5.3" fill="none" stroke="#3c9614" stroke-width="1.0"/>
<path d="M212.21,397.5 L212.21,405.5" stroke="#3c9614" stroke-width="0.8" fill="none"/><path d="M210.61,397.5 L213.81,397.5 M210.61,405.5 L213.81,405.5" stroke="#3c9614" stroke-width="0.8" fill="none"/>
<rect x="217.4" y="398.55" width="5.3" height="5.3" fill="none" stroke="#3c9614" stroke-width="1.0"/>
<path d="M220.05,397.2 L220.05,405.2" stroke="#3c9614" stroke-width="0.8" fill="none"/><path d="M218.45,397.2 L221.65,397.2 M218.45,405.2 L221.65,405.2" stroke="#3c9614" stroke-width="0.8" fill="none"/>
<rect x="225.22" y="404.85" width="5.3" height="5.3" fill="none" stroke="#3c9614" stroke-width="1.0"/>
<path d="M227.88,402.1 L227.88,412.9" stroke="#3c9614" stroke-width="0.8" fill="none"/><path d="M226.28,402.1 L229.47,402.1 M226.28,412.9 L229.47,412.9" stroke="#3c9614" stroke-width="0.8" fill="none"/>
<rect x="233.05" y="396.55" width="5.3" height="5.3" fill="none" stroke="#3c9614" stroke-width="1.0"/>
<path d="M235.7,393.8 L235.7,404.6" stroke="#3c9614" stroke-width="0.8" fill="none"/><path d="M234.1,393.8 L237.3,393.8 M234.1,404.6 L237.3,404.6" stroke="#3c9614" stroke-width="0.8" fill="none"/>
<rect x="240.89" y="412.85" width="5.3" height="5.3" fill="none" stroke="#3c9614" stroke-width="1.0"/>
<path d="M243.54,410.1 L243.54,420.9" stroke="#3c9614" stroke-width="0.8" fill="none"/><path d="M241.94,410.1 L245.14,410.1 M241.94,420.9 L245.14,420.9" stroke="#3c9614" stroke-width="0.8" fill="none"/>
<rect x="248.72" y="402.95" width="5.3" height="5.3" fill="none" stroke="#3c9614" stroke-width="1.0"/>
<path d="M251.37,400.2 L251.37,411" stroke="#3c9614" stroke-width="0.8" fill="none"/><path d="M249.77,400.2 L252.97,400.2 M249.77,411 L252.97,411" stroke="#3c9614" stroke-width="0.8" fill="none"/>
<rect x="256.55" y="397.55" width="5.3" height="5.3" fill="none" stroke="#3c9614" stroke-width="1.0"/>
<path d="M259.19,394.8 L259.19,405.6" stroke="#3c9614" stroke-width="0.8" fill="none"/><path d="M257.59,394.8 L260.8,394.8 M257.59,405.6 L260.8,405.6" stroke="#3c9614" stroke-width="0.8" fill="none"/>
<rect x="264.38" y="407.45" width="5.3" height="5.3" fill="none" stroke="#3c9614" stroke-width="1.0"/>
<path d="M267.02,404.7 L267.02,415.5" stroke="#3c9614" stroke-width="0.8" fill="none"/><path d="M265.42,404.7 L268.62,404.7 M265.42,415.5 L268.62,415.5" stroke="#3c9614" stroke-width="0.8" fill="none"/>
<rect x="272.21" y="404.65" width="5.3" height="5.3" fill="none" stroke="#3c9614" stroke-width="1.0"/>
<path d="M274.86,401.9 L274.86,412.7" stroke="#3c9614" stroke-width="0.8" fill="none"/><path d="M273.25,401.9 L276.46,401.9 M273.25,412.7 L276.46,412.7" stroke="#3c9614" stroke-width="0.8" fill="none"/>
<rect x="280.04" y="394.35" width="5.3" height="5.3" fill="none" stroke="#3c9614" stroke-width="1.0"/>
<path d="M282.69,391.6 L282.69,402.4" stroke="#3c9614" stroke-width="0.8" fill="none"/><path d="M281.08,391.6 L284.29,391.6 M281.08,402.4 L284.29,402.4" stroke="#3c9614" stroke-width="0.8" fill="none"/>
<rect x="287.87" y="393.95" width="5.3" height="5.3" fill="none" stroke="#3c9614" stroke-width="1.0"/>
<path d="M290.51,391.2 L290.51,402" stroke="#3c9614" stroke-width="0.8" fill="none"/><path d="M288.91,391.2 L292.12,391.2 M288.91,402 L292.12,402" stroke="#3c9614" stroke-width="0.8" fill="none"/>
<rect x="295.69" y="388.25" width="5.3" height="5.3" fill="none" stroke="#3c9614" stroke-width="1.0"/>
<path d="M298.34,385.5 L298.34,396.3" stroke="#3c9614" stroke-width="0.8" fill="none"/><path d="M296.74,385.5 L299.94,385.5 M296.74,396.3 L299.94,396.3" stroke="#3c9614" stroke-width="0.8" fill="none"/>
<rect x="303.53" y="396.95" width="5.3" height="5.3" fill="none" stroke="#3c9614" stroke-width="1.0"/>
<path d="M306.18,394.2 L306.18,405" stroke="#3c9614" stroke-width="0.8" fill="none"/><path d="M304.57,394.2 L307.78,394.2 M304.57,405 L307.78,405" stroke="#3c9614" stroke-width="0.8" fill="none"/>
<rect x="311.36" y="398.45" width="5.3" height="5.3" fill="none" stroke="#3c9614" stroke-width="1.0"/>
<path d="M314,395.7 L314,406.5" stroke="#3c9614" stroke-width="0.8" fill="none"/><path d="M312.4,395.7 L315.61,395.7 M312.4,406.5 L315.61,406.5" stroke="#3c9614" stroke-width="0.8" fill="none"/>
<rect x="319.19" y="401.05" width="5.3" height="5.3" fill="none" stroke="#3c9614" stroke-width="1.0"/>
<path d="M321.83,398.3 L321.83,409.1" stroke="#3c9614" stroke-width="0.8" fill="none"/><path d="M320.23,398.3 L323.44,398.3 M320.23,409.1 L323.44,409.1" stroke="#3c9614" stroke-width="0.8" fill="none"/>
<rect x="327.01" y="389.55" width="5.3" height="5.3" fill="none" stroke="#3c9614" stroke-width="1.0"/>
<path d="M329.66,386.8 L329.66,397.6" stroke="#3c9614" stroke-width="0.8" fill="none"/><path d="M328.06,386.8 L331.26,386.8 M328.06,397.6 L331.26,397.6" stroke="#3c9614" stroke-width="0.8" fill="none"/>
<rect x="334.84" y="395.75" width="5.3" height="5.3" fill="none" stroke="#3c9614" stroke-width="1.0"/>
<path d="M337.49,393 L337.49,403.8" stroke="#3c9614" stroke-width="0.8" fill="none"/><path d="M335.89,393 L339.09,393 M335.89,403.8 L339.09,403.8" stroke="#3c9614" stroke-width="0.8" fill="none"/>
<rect x="342.68" y="395.75" width="5.3" height="5.3" fill="none" stroke="#3c9614" stroke-width="1.0"/>
<path d="M345.32,393 L345.32,403.8" stroke="#3c9614" stroke-width="0.8" fill="none"/><path d="M343.72,393 L346.93,393 M343.72,403.8 L346.93,403.8" stroke="#3c9614" stroke-width="0.8" fill="none"/>
<rect x="350.5" y="392.75" width="5.3" height="5.3" fill="none" stroke="#3c9614" stroke-width="1.0"/>
<path d="M353.15,390 L353.15,400.8" stroke="#3c9614" stroke-width="0.8" fill="none"/><path d="M351.55,390 L354.75,390 M351.55,400.8 L354.75,400.8" stroke="#3c9614" stroke-width="0.8" fill="none"/>
<rect x="358.34" y="399.35" width="5.3" height="5.3" fill="none" stroke="#3c9614" stroke-width="1.0"/>
<path d="M360.99,396.6 L360.99,407.4" stroke="#3c9614" stroke-width="0.8" fill="none"/><path d="M359.38,396.6 L362.59,396.6 M359.38,407.4 L362.59,407.4" stroke="#3c9614" stroke-width="0.8" fill="none"/>
</g>
<g clip-path="url(#cr)">
<path d="M59.53,390.5 L75.19,385.5 L90.85,388.3 L106.51,390.3 L122.17,393.2 L133.92,391.2 L141.75,388.6 L149.57,392.4 L157.41,392.8 L165.24,394.4 L173.06,390.2 L180.89,389.8 L188.73,385.2 L196.56,389 L204.38,384.7 L212.21,385.2 L220.05,382.6 L227.88,374.6 L235.7,376.3 L243.54,382.1 L251.37,377.5 L259.19,370.6 L267.02,384.8 L274.86,376.3 L282.69,375.8 L290.51,384.8 L298.34,383.6 L306.18,377.5 L314,388.5 L321.83,382.7 L329.66,388.6 L337.49,386.4 L345.32,395.4 L353.15,402.3 L360.99,399" fill="none" stroke="#0000ee" stroke-width="1.3"/>
<path d="M56.88,392.95 L62.18,392.95 L59.53,388.05 Z" fill="#0000ee"/>
<path d="M59.53,389.5 L59.53,391.5" stroke="#0000ee" stroke-width="0.9" fill="none"/><path d="M57.93,389.5 L61.13,389.5 M57.93,391.5 L61.13,391.5" stroke="#0000ee" stroke-width="0.9" fill="none"/>
<path d="M72.54,387.95 L77.84,387.95 L75.19,383.05 Z" fill="#0000ee"/>
<path d="M75.19,384.5 L75.19,386.5" stroke="#0000ee" stroke-width="0.9" fill="none"/><path d="M73.59,384.5 L76.79,384.5 M73.59,386.5 L76.79,386.5" stroke="#0000ee" stroke-width="0.9" fill="none"/>
<path d="M88.2,390.75 L93.5,390.75 L90.85,385.85 Z" fill="#0000ee"/>
<path d="M90.85,387.3 L90.85,389.3" stroke="#0000ee" stroke-width="0.9" fill="none"/><path d="M89.25,387.3 L92.45,387.3 M89.25,389.3 L92.45,389.3" stroke="#0000ee" stroke-width="0.9" fill="none"/>
<path d="M103.86,392.75 L109.16,392.75 L106.51,387.85 Z" fill="#0000ee"/>
<path d="M106.51,389.3 L106.51,391.3" stroke="#0000ee" stroke-width="0.9" fill="none"/><path d="M104.91,389.3 L108.11,389.3 M104.91,391.3 L108.11,391.3" stroke="#0000ee" stroke-width="0.9" fill="none"/>
<path d="M119.52,395.65 L124.82,395.65 L122.17,390.75 Z" fill="#0000ee"/>
<path d="M122.17,392.2 L122.17,394.2" stroke="#0000ee" stroke-width="0.9" fill="none"/><path d="M120.57,392.2 L123.77,392.2 M120.57,394.2 L123.77,394.2" stroke="#0000ee" stroke-width="0.9" fill="none"/>
<path d="M131.27,393.65 L136.57,393.65 L133.92,388.75 Z" fill="#0000ee"/>
<path d="M133.92,389.2 L133.92,393.2" stroke="#0000ee" stroke-width="0.9" fill="none"/><path d="M132.32,389.2 L135.52,389.2 M132.32,393.2 L135.52,393.2" stroke="#0000ee" stroke-width="0.9" fill="none"/>
<path d="M139.09,391.05 L144.4,391.05 L141.75,386.15 Z" fill="#0000ee"/>
<path d="M141.75,386.6 L141.75,390.6" stroke="#0000ee" stroke-width="0.9" fill="none"/><path d="M140.15,386.6 L143.34,386.6 M140.15,390.6 L143.34,390.6" stroke="#0000ee" stroke-width="0.9" fill="none"/>
<path d="M146.92,394.85 L152.22,394.85 L149.57,389.95 Z" fill="#0000ee"/>
<path d="M149.57,390.4 L149.57,394.4" stroke="#0000ee" stroke-width="0.9" fill="none"/><path d="M147.97,390.4 L151.17,390.4 M147.97,394.4 L151.17,394.4" stroke="#0000ee" stroke-width="0.9" fill="none"/>
<path d="M154.75,395.25 L160.06,395.25 L157.41,390.35 Z" fill="#0000ee"/>
<path d="M157.41,390.8 L157.41,394.8" stroke="#0000ee" stroke-width="0.9" fill="none"/><path d="M155.81,390.8 L159,390.8 M155.81,394.8 L159,394.8" stroke="#0000ee" stroke-width="0.9" fill="none"/>
<path d="M162.59,396.85 L167.89,396.85 L165.24,391.95 Z" fill="#0000ee"/>
<path d="M165.24,392.4 L165.24,396.4" stroke="#0000ee" stroke-width="0.9" fill="none"/><path d="M163.64,392.4 L166.84,392.4 M163.64,396.4 L166.84,396.4" stroke="#0000ee" stroke-width="0.9" fill="none"/>
<path d="M170.41,392.65 L175.72,392.65 L173.06,387.75 Z" fill="#0000ee"/>
<path d="M173.06,388.2 L173.06,392.2" stroke="#0000ee" stroke-width="0.9" fill="none"/><path d="M171.47,388.2 L174.66,388.2 M171.47,392.2 L174.66,392.2" stroke="#0000ee" stroke-width="0.9" fill="none"/>
<path d="M178.24,392.25 L183.54,392.25 L180.89,387.35 Z" fill="#0000ee"/>
<path d="M180.89,386.8 L180.89,392.8" stroke="#0000ee" stroke-width="0.9" fill="none"/><path d="M179.29,386.8 L182.49,386.8 M179.29,392.8 L182.49,392.8" stroke="#0000ee" stroke-width="0.9" fill="none"/>
<path d="M186.08,387.65 L191.38,387.65 L188.73,382.75 Z" fill="#0000ee"/>
<path d="M188.73,382.2 L188.73,388.2" stroke="#0000ee" stroke-width="0.9" fill="none"/><path d="M187.13,382.2 L190.33,382.2 M187.13,388.2 L190.33,388.2" stroke="#0000ee" stroke-width="0.9" fill="none"/>
<path d="M193.91,391.45 L199.21,391.45 L196.56,386.55 Z" fill="#0000ee"/>
<path d="M196.56,386 L196.56,392" stroke="#0000ee" stroke-width="0.9" fill="none"/><path d="M194.96,386 L198.16,386 M194.96,392 L198.16,392" stroke="#0000ee" stroke-width="0.9" fill="none"/>
<path d="M201.73,387.15 L207.03,387.15 L204.38,382.25 Z" fill="#0000ee"/>
<path d="M204.38,381.7 L204.38,387.7" stroke="#0000ee" stroke-width="0.9" fill="none"/><path d="M202.78,381.7 L205.98,381.7 M202.78,387.7 L205.98,387.7" stroke="#0000ee" stroke-width="0.9" fill="none"/>
<path d="M209.56,387.65 L214.86,387.65 L212.21,382.75 Z" fill="#0000ee"/>
<path d="M212.21,382.2 L212.21,388.2" stroke="#0000ee" stroke-width="0.9" fill="none"/><path d="M210.61,382.2 L213.81,382.2 M210.61,388.2 L213.81,388.2" stroke="#0000ee" stroke-width="0.9" fill="none"/>
<path d="M217.4,385.05 L222.7,385.05 L220.05,380.15 Z" fill="#0000ee"/>
<path d="M220.05,379.6 L220.05,385.6" stroke="#0000ee" stroke-width="0.9" fill="none"/><path d="M218.45,379.6 L221.65,379.6 M218.45,385.6 L221.65,385.6" stroke="#0000ee" stroke-width="0.9" fill="none"/>
<path d="M225.22,377.05 L230.53,377.05 L227.88,372.15 Z" fill="#0000ee"/>
<path d="M227.88,370.3 L227.88,378.9" stroke="#0000ee" stroke-width="0.9" fill="none"/><path d="M226.28,370.3 L229.47,370.3 M226.28,378.9 L229.47,378.9" stroke="#0000ee" stroke-width="0.9" fill="none"/>
<path d="M233.05,378.75 L238.35,378.75 L235.7,373.85 Z" fill="#0000ee"/>
<path d="M235.7,372 L235.7,380.6" stroke="#0000ee" stroke-width="0.9" fill="none"/><path d="M234.1,372 L237.3,372 M234.1,380.6 L237.3,380.6" stroke="#0000ee" stroke-width="0.9" fill="none"/>
<path d="M240.89,384.55 L246.19,384.55 L243.54,379.65 Z" fill="#0000ee"/>
<path d="M243.54,377.8 L243.54,386.4" stroke="#0000ee" stroke-width="0.9" fill="none"/><path d="M241.94,377.8 L245.14,377.8 M241.94,386.4 L245.14,386.4" stroke="#0000ee" stroke-width="0.9" fill="none"/>
<path d="M248.72,379.95 L254.02,379.95 L251.37,375.05 Z" fill="#0000ee"/>
<path d="M251.37,373.2 L251.37,381.8" stroke="#0000ee" stroke-width="0.9" fill="none"/><path d="M249.77,373.2 L252.97,373.2 M249.77,381.8 L252.97,381.8" stroke="#0000ee" stroke-width="0.9" fill="none"/>
<path d="M256.55,373.05 L261.84,373.05 L259.19,368.15 Z" fill="#0000ee"/>
<path d="M259.19,366.3 L259.19,374.9" stroke="#0000ee" stroke-width="0.9" fill="none"/><path d="M257.59,366.3 L260.8,366.3 M257.59,374.9 L260.8,374.9" stroke="#0000ee" stroke-width="0.9" fill="none"/>
<path d="M264.38,387.25 L269.67,387.25 L267.02,382.35 Z" fill="#0000ee"/>
<path d="M267.02,380.5 L267.02,389.1" stroke="#0000ee" stroke-width="0.9" fill="none"/><path d="M265.42,380.5 L268.62,380.5 M265.42,389.1 L268.62,389.1" stroke="#0000ee" stroke-width="0.9" fill="none"/>
<path d="M272.21,378.75 L277.5,378.75 L274.86,373.85 Z" fill="#0000ee"/>
<path d="M274.86,372 L274.86,380.6" stroke="#0000ee" stroke-width="0.9" fill="none"/><path d="M273.25,372 L276.46,372 M273.25,380.6 L276.46,380.6" stroke="#0000ee" stroke-width="0.9" fill="none"/>
<path d="M280.04,378.25 L285.33,378.25 L282.69,373.35 Z" fill="#0000ee"/>
<path d="M282.69,371.5 L282.69,380.1" stroke="#0000ee" stroke-width="0.9" fill="none"/><path d="M281.08,371.5 L284.29,371.5 M281.08,380.1 L284.29,380.1" stroke="#0000ee" stroke-width="0.9" fill="none"/>
<path d="M287.87,387.25 L293.16,387.25 L290.51,382.35 Z" fill="#0000ee"/>
<path d="M290.51,380.5 L290.51,389.1" stroke="#0000ee" stroke-width="0.9" fill="none"/><path d="M288.91,380.5 L292.12,380.5 M288.91,389.1 L292.12,389.1" stroke="#0000ee" stroke-width="0.9" fill="none"/>
<path d="M295.69,386.05 L300.99,386.05 L298.34,381.15 Z" fill="#0000ee"/>
<path d="M298.34,379.3 L298.34,387.9" stroke="#0000ee" stroke-width="0.9" fill="none"/><path d="M296.74,379.3 L299.94,379.3 M296.74,387.9 L299.94,387.9" stroke="#0000ee" stroke-width="0.9" fill="none"/>
<path d="M303.53,379.95 L308.82,379.95 L306.18,375.05 Z" fill="#0000ee"/>
<path d="M306.18,373.2 L306.18,381.8" stroke="#0000ee" stroke-width="0.9" fill="none"/><path d="M304.57,373.2 L307.78,373.2 M304.57,381.8 L307.78,381.8" stroke="#0000ee" stroke-width="0.9" fill="none"/>
<path d="M311.36,390.95 L316.65,390.95 L314,386.05 Z" fill="#0000ee"/>
<path d="M314,384.2 L314,392.8" stroke="#0000ee" stroke-width="0.9" fill="none"/><path d="M312.4,384.2 L315.61,384.2 M312.4,392.8 L315.61,392.8" stroke="#0000ee" stroke-width="0.9" fill="none"/>
<path d="M319.19,385.15 L324.48,385.15 L321.83,380.25 Z" fill="#0000ee"/>
<path d="M321.83,378.4 L321.83,387" stroke="#0000ee" stroke-width="0.9" fill="none"/><path d="M320.23,378.4 L323.44,378.4 M320.23,387 L323.44,387" stroke="#0000ee" stroke-width="0.9" fill="none"/>
<path d="M327.01,391.05 L332.31,391.05 L329.66,386.15 Z" fill="#0000ee"/>
<path d="M329.66,384.3 L329.66,392.9" stroke="#0000ee" stroke-width="0.9" fill="none"/><path d="M328.06,384.3 L331.26,384.3 M328.06,392.9 L331.26,392.9" stroke="#0000ee" stroke-width="0.9" fill="none"/>
<path d="M334.84,388.85 L340.14,388.85 L337.49,383.95 Z" fill="#0000ee"/>
<path d="M337.49,382.1 L337.49,390.7" stroke="#0000ee" stroke-width="0.9" fill="none"/><path d="M335.89,382.1 L339.09,382.1 M335.89,390.7 L339.09,390.7" stroke="#0000ee" stroke-width="0.9" fill="none"/>
<path d="M342.68,397.85 L347.97,397.85 L345.32,392.95 Z" fill="#0000ee"/>
<path d="M345.32,391.1 L345.32,399.7" stroke="#0000ee" stroke-width="0.9" fill="none"/><path d="M343.72,391.1 L346.93,391.1 M343.72,399.7 L346.93,399.7" stroke="#0000ee" stroke-width="0.9" fill="none"/>
<path d="M350.5,404.75 L355.8,404.75 L353.15,399.85 Z" fill="#0000ee"/>
<path d="M353.15,398 L353.15,406.6" stroke="#0000ee" stroke-width="0.9" fill="none"/><path d="M351.55,398 L354.75,398 M351.55,406.6 L354.75,406.6" stroke="#0000ee" stroke-width="0.9" fill="none"/>
<path d="M358.34,401.45 L363.63,401.45 L360.99,396.55 Z" fill="#0000ee"/>
<path d="M360.99,394.7 L360.99,403.3" stroke="#0000ee" stroke-width="0.9" fill="none"/><path d="M359.38,394.7 L362.59,394.7 M359.38,403.3 L362.59,403.3" stroke="#0000ee" stroke-width="0.9" fill="none"/>
</g>
<g clip-path="url(#cr)">
<path d="M59.53,443.5 L75.19,400.09 L90.85,396.93 L106.51,403.71 L122.17,407.33 L133.92,416.82 L141.75,428.13 L149.57,444.41 L157.41,453.45 L165.24,462.04 L173.06,470.18 L180.89,485.1 L188.73,497.31 L196.56,502.74 L204.38,521.73 L212.21,542.99 L220.05,552.93 L227.88,583.68 L235.7,595.44 L243.54,588.66 L251.37,597.25 L259.19,634.33 L267.02,643.83 L274.86,689.95 L282.69,663.72 L290.51,745.12 L298.34,706.68 L306.18,682.72 L314,731.55 L321.83,762.75 L329.66,761.85 L337.49,856.36 L345.32,809.33 L353.15,783.1 L360.99,746.02" fill="none" stroke="#ff0000" stroke-width="1.1" stroke-dasharray="0.9,1.1"/>
<path d="M59.53,440.4 L61.73,443.5 L59.53,446.6 L57.33,443.5 Z" fill="#ff0000"/>
<path d="M59.53,442.7 L59.53,444.3" stroke="#ff0000" stroke-width="0.9" fill="none" stroke-dasharray="0.9,1.1"/><path d="M57.93,442.7 L61.13,442.7 M57.93,444.3 L61.13,444.3" stroke="#ff0000" stroke-width="0.9" fill="none" stroke-dasharray="0.9,1.1"/>
<path d="M75.19,396.99 L77.39,400.09 L75.19,403.19 L72.99,400.09 Z" fill="#ff0000"/>
<path d="M75.19,399.29 L75.19,400.89" stroke="#ff0000" stroke-width="0.9" fill="none" stroke-dasharray="0.9,1.1"/><path d="M73.59,399.29 L76.79,399.29 M73.59,400.89 L76.79,400.89" stroke="#ff0000" stroke-width="0.9" fill="none" stroke-dasharray="0.9,1.1"/>
<path d="M90.85,393.83 L93.05,396.93 L90.85,400.03 L88.65,396.93 Z" fill="#ff0000"/>
<path d="M90.85,396.13 L90.85,397.73" stroke="#ff0000" stroke-width="0.9" fill="none" stroke-dasharray="0.9,1.1"/><path d="M89.25,396.13 L92.45,396.13 M89.25,397.73 L92.45,397.73" stroke="#ff0000" stroke-width="0.9" fill="none" stroke-dasharray="0.9,1.1"/>
<path d="M106.51,400.61 L108.71,403.71 L106.51,406.81 L104.31,403.71 Z" fill="#ff0000"/>
<path d="M106.51,402.91 L106.51,404.51" stroke="#ff0000" stroke-width="0.9" fill="none" stroke-dasharray="0.9,1.1"/><path d="M104.91,402.91 L108.11,402.91 M104.91,404.51 L108.11,404.51" stroke="#ff0000" stroke-width="0.9" fill="none" stroke-dasharray="0.9,1.1"/>
<path d="M122.17,404.23 L124.37,407.33 L122.17,410.43 L119.97,407.33 Z" fill="#ff0000"/>
<path d="M122.17,406.53 L122.17,408.13" stroke="#ff0000" stroke-width="0.9" fill="none" stroke-dasharray="0.9,1.1"/><path d="M120.57,406.53 L123.77,406.53 M120.57,408.13 L123.77,408.13" stroke="#ff0000" stroke-width="0.9" fill="none" stroke-dasharray="0.9,1.1"/>
<path d="M133.92,413.72 L136.12,416.82 L133.92,419.92 L131.72,416.82 Z" fill="#ff0000"/>
<path d="M133.92,414.32 L133.92,419.32" stroke="#ff0000" stroke-width="0.9" fill="none" stroke-dasharray="0.9,1.1"/><path d="M132.32,414.32 L135.52,414.32 M132.32,419.32 L135.52,419.32" stroke="#ff0000" stroke-width="0.9" fill="none" stroke-dasharray="0.9,1.1"/>
<path d="M141.75,425.03 L143.94,428.13 L141.75,431.23 L139.55,428.13 Z" fill="#ff0000"/>
<path d="M141.75,425.63 L141.75,430.63" stroke="#ff0000" stroke-width="0.9" fill="none" stroke-dasharray="0.9,1.1"/><path d="M140.15,425.63 L143.34,425.63 M140.15,430.63 L143.34,430.63" stroke="#ff0000" stroke-width="0.9" fill="none" stroke-dasharray="0.9,1.1"/>
<path d="M149.57,441.31 L151.77,444.41 L149.57,447.51 L147.38,444.41 Z" fill="#ff0000"/>
<path d="M149.57,441.91 L149.57,446.91" stroke="#ff0000" stroke-width="0.9" fill="none" stroke-dasharray="0.9,1.1"/><path d="M147.97,441.91 L151.17,441.91 M147.97,446.91 L151.17,446.91" stroke="#ff0000" stroke-width="0.9" fill="none" stroke-dasharray="0.9,1.1"/>
<path d="M157.41,450.35 L159.6,453.45 L157.41,456.55 L155.21,453.45 Z" fill="#ff0000"/>
<path d="M157.41,450.95 L157.41,455.95" stroke="#ff0000" stroke-width="0.9" fill="none" stroke-dasharray="0.9,1.1"/><path d="M155.81,450.95 L159,450.95 M155.81,455.95 L159,455.95" stroke="#ff0000" stroke-width="0.9" fill="none" stroke-dasharray="0.9,1.1"/>
<path d="M165.24,458.94 L167.44,462.04 L165.24,465.14 L163.04,462.04 Z" fill="#ff0000"/>
<path d="M165.24,459.54 L165.24,464.54" stroke="#ff0000" stroke-width="0.9" fill="none" stroke-dasharray="0.9,1.1"/><path d="M163.64,459.54 L166.84,459.54 M163.64,464.54 L166.84,464.54" stroke="#ff0000" stroke-width="0.9" fill="none" stroke-dasharray="0.9,1.1"/>
<path d="M173.06,467.08 L175.26,470.18 L173.06,473.28 L170.87,470.18 Z" fill="#ff0000"/>
<path d="M173.06,467.68 L173.06,472.68" stroke="#ff0000" stroke-width="0.9" fill="none" stroke-dasharray="0.9,1.1"/><path d="M171.47,467.68 L174.66,467.68 M171.47,472.68 L174.66,472.68" stroke="#ff0000" stroke-width="0.9" fill="none" stroke-dasharray="0.9,1.1"/>
<path d="M180.89,482.6 L180.89,487.6" stroke="#ff0000" stroke-width="0.9" fill="none" stroke-dasharray="0.9,1.1"/><path d="M179.29,482.6 L182.49,482.6 M179.29,487.6 L182.49,487.6" stroke="#ff0000" stroke-width="0.9" fill="none" stroke-dasharray="0.9,1.1"/>
<path d="M188.73,494.81 L188.73,499.81" stroke="#ff0000" stroke-width="0.9" fill="none" stroke-dasharray="0.9,1.1"/><path d="M187.13,494.81 L190.33,494.81 M187.13,499.81 L190.33,499.81" stroke="#ff0000" stroke-width="0.9" fill="none" stroke-dasharray="0.9,1.1"/>
<path d="M196.56,500.24 L196.56,505.24" stroke="#ff0000" stroke-width="0.9" fill="none" stroke-dasharray="0.9,1.1"/><path d="M194.96,500.24 L198.16,500.24 M194.96,505.24 L198.16,505.24" stroke="#ff0000" stroke-width="0.9" fill="none" stroke-dasharray="0.9,1.1"/>
<path d="M204.38,519.23 L204.38,524.23" stroke="#ff0000" stroke-width="0.9" fill="none" stroke-dasharray="0.9,1.1"/><path d="M202.78,519.23 L205.98,519.23 M202.78,524.23 L205.98,524.23" stroke="#ff0000" stroke-width="0.9" fill="none" stroke-dasharray="0.9,1.1"/>
<path d="M212.21,540.49 L212.21,545.49" stroke="#ff0000" stroke-width="0.9" fill="none" stroke-dasharray="0.9,1.1"/><path d="M210.61,540.49 L213.81,540.49 M210.61,545.49 L213.81,545.49" stroke="#ff0000" stroke-width="0.9" fill="none" stroke-dasharray="0.9,1.1"/>
<path d="M220.05,550.43 L220.05,555.43" stroke="#ff0000" stroke-width="0.9" fill="none" stroke-dasharray="0.9,1.1"/><path d="M218.45,550.43 L221.65,550.43 M218.45,555.43 L221.65,555.43" stroke="#ff0000" stroke-width="0.9" fill="none" stroke-dasharray="0.9,1.1"/>
<path d="M227.88,581.18 L227.88,586.18" stroke="#ff0000" stroke-width="0.9" fill="none" stroke-dasharray="0.9,1.1"/><path d="M226.28,581.18 L229.47,581.18 M226.28,586.18 L229.47,586.18" stroke="#ff0000" stroke-width="0.9" fill="none" stroke-dasharray="0.9,1.1"/>
<path d="M235.7,592.94 L235.7,597.94" stroke="#ff0000" stroke-width="0.9" fill="none" stroke-dasharray="0.9,1.1"/><path d="M234.1,592.94 L237.3,592.94 M234.1,597.94 L237.3,597.94" stroke="#ff0000" stroke-width="0.9" fill="none" stroke-dasharray="0.9,1.1"/>
<path d="M243.54,586.16 L243.54,591.16" stroke="#ff0000" stroke-width="0.9" fill="none" stroke-dasharray="0.9,1.1"/><path d="M241.94,586.16 L245.14,586.16 M241.94,591.16 L245.14,591.16" stroke="#ff0000" stroke-width="0.9" fill="none" stroke-dasharray="0.9,1.1"/>
<path d="M251.37,594.75 L251.37,599.75" stroke="#ff0000" stroke-width="0.9" fill="none" stroke-dasharray="0.9,1.1"/><path d="M249.77,594.75 L252.97,594.75 M249.77,599.75 L252.97,599.75" stroke="#ff0000" stroke-width="0.9" fill="none" stroke-dasharray="0.9,1.1"/>
<path d="M259.19,631.83 L259.19,636.83" stroke="#ff0000" stroke-width="0.9" fill="none" stroke-dasharray="0.9,1.1"/><path d="M257.59,631.83 L260.8,631.83 M257.59,636.83 L260.8,636.83" stroke="#ff0000" stroke-width="0.9" fill="none" stroke-dasharray="0.9,1.1"/>
<path d="M267.02,641.33 L267.02,646.33" stroke="#ff0000" stroke-width="0.9" fill="none" stroke-dasharray="0.9,1.1"/><path d="M265.42,641.33 L268.62,641.33 M265.42,646.33 L268.62,646.33" stroke="#ff0000" stroke-width="0.9" fill="none" stroke-dasharray="0.9,1.1"/>
<path d="M274.86,687.45 L274.86,692.45" stroke="#ff0000" stroke-width="0.9" fill="none" stroke-dasharray="0.9,1.1"/><path d="M273.25,687.45 L276.46,687.45 M273.25,692.45 L276.46,692.45" stroke="#ff0000" stroke-width="0.9" fill="none" stroke-dasharray="0.9,1.1"/>
<path d="M282.69,661.22 L282.69,666.22" stroke="#ff0000" stroke-width="0.9" fill="none" stroke-dasharray="0.9,1.1"/><path d="M281.08,661.22 L284.29,661.22 M281.08,666.22 L284.29,666.22" stroke="#ff0000" stroke-width="0.9" fill="none" stroke-dasharray="0.9,1.1"/>
<path d="M290.51,742.62 L290.51,747.62" stroke="#ff0000" stroke-width="0.9" fill="none" stroke-dasharray="0.9,1.1"/><path d="M288.91,742.62 L292.12,742.62 M288.91,747.62 L292.12,747.62" stroke="#ff0000" stroke-width="0.9" fill="none" stroke-dasharray="0.9,1.1"/>
<path d="M298.34,704.18 L298.34,709.18" stroke="#ff0000" stroke-width="0.9" fill="none" stroke-dasharray="0.9,1.1"/><path d="M296.74,704.18 L299.94,704.18 M296.74,709.18 L299.94,709.18" stroke="#ff0000" stroke-width="0.9" fill="none" stroke-dasharray="0.9,1.1"/>
<path d="M306.18,680.22 L306.18,685.22" stroke="#ff0000" stroke-width="0.9" fill="none" stroke-dasharray="0.9,1.1"/><path d="M304.57,680.22 L307.78,680.22 M304.57,685.22 L307.78,685.22" stroke="#ff0000" stroke-width="0.9" fill="none" stroke-dasharray="0.9,1.1"/>
<path d="M314,729.05 L314,734.05" stroke="#ff0000" stroke-width="0.9" fill="none" stroke-dasharray="0.9,1.1"/><path d="M312.4,729.05 L315.61,729.05 M312.4,734.05 L315.61,734.05" stroke="#ff0000" stroke-width="0.9" fill="none" stroke-dasharray="0.9,1.1"/>
<path d="M321.83,760.25 L321.83,765.25" stroke="#ff0000" stroke-width="0.9" fill="none" stroke-dasharray="0.9,1.1"/><path d="M320.23,760.25 L323.44,760.25 M320.23,765.25 L323.44,765.25" stroke="#ff0000" stroke-width="0.9" fill="none" stroke-dasharray="0.9,1.1"/>
<path d="M329.66,759.35 L329.66,764.35" stroke="#ff0000" stroke-width="0.9" fill="none" stroke-dasharray="0.9,1.1"/><path d="M328.06,759.35 L331.26,759.35 M328.06,764.35 L331.26,764.35" stroke="#ff0000" stroke-width="0.9" fill="none" stroke-dasharray="0.9,1.1"/>
<path d="M337.49,853.86 L337.49,858.86" stroke="#ff0000" stroke-width="0.9" fill="none" stroke-dasharray="0.9,1.1"/><path d="M335.89,853.86 L339.09,853.86 M335.89,858.86 L339.09,858.86" stroke="#ff0000" stroke-width="0.9" fill="none" stroke-dasharray="0.9,1.1"/>
<path d="M345.32,806.83 L345.32,811.83" stroke="#ff0000" stroke-width="0.9" fill="none" stroke-dasharray="0.9,1.1"/><path d="M343.72,806.83 L346.93,806.83 M343.72,811.83 L346.93,811.83" stroke="#ff0000" stroke-width="0.9" fill="none" stroke-dasharray="0.9,1.1"/>
<path d="M353.15,780.6 L353.15,785.6" stroke="#ff0000" stroke-width="0.9" fill="none" stroke-dasharray="0.9,1.1"/><path d="M351.55,780.6 L354.75,780.6 M351.55,785.6 L354.75,785.6" stroke="#ff0000" stroke-width="0.9" fill="none" stroke-dasharray="0.9,1.1"/>
<path d="M360.99,743.52 L360.99,748.52" stroke="#ff0000" stroke-width="0.9" fill="none" stroke-dasharray="0.9,1.1"/><path d="M359.38,743.52 L362.59,743.52 M359.38,748.52 L362.59,748.52" stroke="#ff0000" stroke-width="0.9" fill="none" stroke-dasharray="0.9,1.1"/>
</g>
<line x1="45.6" y1="16.9" x2="45.6" y2="478.5" stroke="#000" stroke-width="1.2"/>
<line x1="371.1" y1="16.9" x2="371.1" y2="478.5" stroke="#000" stroke-width="1.4"/>
<line x1="45" y1="17.5" x2="371.8" y2="17.5" stroke="#000" stroke-width="1.2"/>
<line x1="45" y1="317.4" x2="371.8" y2="317.4" stroke="#000" stroke-width="1.2"/>
<line x1="45" y1="477.6" x2="371.8" y2="477.6" stroke="#000" stroke-width="1.8"/>
<line x1="45.6" y1="317.39" x2="51.6" y2="317.39" stroke="#000" stroke-width="1.15"/>
<line x1="371.1" y1="317.39" x2="365.1" y2="317.39" stroke="#000" stroke-width="1.15"/>
<line x1="45.6" y1="314.4" x2="51.6" y2="314.4" stroke="#000" stroke-width="1.15"/>
<line x1="371.1" y1="314.4" x2="365.1" y2="314.4" stroke="#000" stroke-width="1.15"/>
<line x1="45.6" y1="311.82" x2="51.6" y2="311.82" stroke="#000" stroke-width="1.15"/>
<line x1="371.1" y1="311.82" x2="365.1" y2="311.82" stroke="#000" stroke-width="1.15"/>
<line x1="45.6" y1="309.54" x2="51.6" y2="309.54" stroke="#000" stroke-width="1.15"/>
<line x1="371.1" y1="309.54" x2="365.1" y2="309.54" stroke="#000" stroke-width="1.15"/>
<line x1="45.6" y1="307.5" x2="56.6" y2="307.5" stroke="#000" stroke-width="1.15"/>
<line x1="371.1" y1="307.5" x2="360.1" y2="307.5" stroke="#000" stroke-width="1.15"/>
<line x1="45.6" y1="294.09" x2="51.6" y2="294.09" stroke="#000" stroke-width="1.15"/>
<line x1="371.1" y1="294.09" x2="365.1" y2="294.09" stroke="#000" stroke-width="1.15"/>
<line x1="45.6" y1="286.24" x2="51.6" y2="286.24" stroke="#000" stroke-width="1.15"/>
<line x1="371.1" y1="286.24" x2="365.1" y2="286.24" stroke="#000" stroke-width="1.15"/>
<line x1="45.6" y1="280.67" x2="51.6" y2="280.67" stroke="#000" stroke-width="1.15"/>
<line x1="371.1" y1="280.67" x2="365.1" y2="280.67" stroke="#000" stroke-width="1.15"/>
<line x1="45.6" y1="276.35" x2="51.6" y2="276.35" stroke="#000" stroke-width="1.15"/>
<line x1="371.1" y1="276.35" x2="365.1" y2="276.35" stroke="#000" stroke-width="1.15"/>
<line x1="45.6" y1="272.83" x2="51.6" y2="272.83" stroke="#000" stroke-width="1.15"/>
<line x1="371.1" y1="272.83" x2="365.1" y2="272.83" stroke="#000" stroke-width="1.15"/>
<line x1="45.6" y1="269.84" x2="51.6" y2="269.84" stroke="#000" stroke-width="1.15"/>
<line x1="371.1" y1="269.84" x2="365.1" y2="269.84" stroke="#000" stroke-width="1.15"/>
<line x1="45.6" y1="267.26" x2="51.6" y2="267.26" stroke="#000" stroke-width="1.15"/>
<line x1="371.1" y1="267.26" x2="365.1" y2="267.26" stroke="#000" stroke-width="1.15"/>
<line x1="45.6" y1="264.98" x2="51.6" y2="264.98" stroke="#000" stroke-width="1.15"/>
<line x1="371.1" y1="264.98" x2="365.1" y2="264.98" stroke="#000" stroke-width="1.15"/>
<line x1="45.6" y1="262.94" x2="56.6" y2="262.94" stroke="#000" stroke-width="1.15"/>
<line x1="371.1" y1="262.94" x2="360.1" y2="262.94" stroke="#000" stroke-width="1.15"/>
<line x1="45.6" y1="249.53" x2="51.6" y2="249.53" stroke="#000" stroke-width="1.15"/>
<line x1="371.1" y1="249.53" x2="365.1" y2="249.53" stroke="#000" stroke-width="1.15"/>
<line x1="45.6" y1="241.68" x2="51.6" y2="241.68" stroke="#000" stroke-width="1.15"/>
<line x1="371.1" y1="241.68" x2="365.1" y2="241.68" stroke="#000" stroke-width="1.15"/>
<line x1="45.6" y1="236.11" x2="51.6" y2="236.11" stroke="#000" stroke-width="1.15"/>
<line x1="371.1" y1="236.11" x2="365.1" y2="236.11" stroke="#000" stroke-width="1.15"/>
<line x1="45.6" y1="231.79" x2="51.6" y2="231.79" stroke="#000" stroke-width="1.15"/>
<line x1="371.1" y1="231.79" x2="365.1" y2="231.79" stroke="#000" stroke-width="1.15"/>
<line x1="45.6" y1="228.27" x2="51.6" y2="228.27" stroke="#000" stroke-width="1.15"/>
<line x1="371.1" y1="228.27" x2="365.1" y2="228.27" stroke="#000" stroke-width="1.15"/>
<line x1="45.6" y1="225.28" x2="51.6" y2="225.28" stroke="#000" stroke-width="1.15"/>
<line x1="371.1" y1="225.28" x2="365.1" y2="225.28" stroke="#000" stroke-width="1.15"/>
<line x1="45.6" y1="222.7" x2="51.6" y2="222.7" stroke="#000" stroke-width="1.15"/>
<line x1="371.1" y1="222.7" x2="365.1" y2="222.7" stroke="#000" stroke-width="1.15"/>
<line x1="45.6" y1="220.42" x2="51.6" y2="220.42" stroke="#000" stroke-width="1.15"/>
<line x1="371.1" y1="220.42" x2="365.1" y2="220.42" stroke="#000" stroke-width="1.15"/>
<line x1="45.6" y1="218.38" x2="56.6" y2="218.38" stroke="#000" stroke-width="1.15"/>
<line x1="371.1" y1="218.38" x2="360.1" y2="218.38" stroke="#000" stroke-width="1.15"/>
<line x1="45.6" y1="204.97" x2="51.6" y2="204.97" stroke="#000" stroke-width="1.15"/>
<line x1="371.1" y1="204.97" x2="365.1" y2="204.97" stroke="#000" stroke-width="1.15"/>
<line x1="45.6" y1="197.12" x2="51.6" y2="197.12" stroke="#000" stroke-width="1.15"/>
<line x1="371.1" y1="197.12" x2="365.1" y2="197.12" stroke="#000" stroke-width="1.15"/>
<line x1="45.6" y1="191.55" x2="51.6" y2="191.55" stroke="#000" stroke-width="1.15"/>
<line x1="371.1" y1="191.55" x2="365.1" y2="191.55" stroke="#000" stroke-width="1.15"/>
<line x1="45.6" y1="187.23" x2="51.6" y2="187.23" stroke="#000" stroke-width="1.15"/>
<line x1="371.1" y1="187.23" x2="365.1" y2="187.23" stroke="#000" stroke-width="1.15"/>
<line x1="45.6" y1="183.71" x2="51.6" y2="183.71" stroke="#000" stroke-width="1.15"/>
<line x1="371.1" y1="183.71" x2="365.1" y2="183.71" stroke="#000" stroke-width="1.15"/>
<line x1="45.6" y1="180.72" x2="51.6" y2="180.72" stroke="#000" stroke-width="1.15"/>
<line x1="371.1" y1="180.72" x2="365.1" y2="180.72" stroke="#000" stroke-width="1.15"/>
<line x1="45.6" y1="178.14" x2="51.6" y2="178.14" stroke="#000" stroke-width="1.15"/>
<line x1="371.1" y1="178.14" x2="365.1" y2="178.14" stroke="#000" stroke-width="1.15"/>
<line x1="45.6" y1="175.86" x2="51.6" y2="175.86" stroke="#000" stroke-width="1.15"/>
<line x1="371.1" y1="175.86" x2="365.1" y2="175.86" stroke="#000" stroke-width="1.15"/>
<line x1="45.6" y1="173.82" x2="56.6" y2="173.82" stroke="#000" stroke-width="1.15"/>
<line x1="371.1" y1="173.82" x2="360.1" y2="173.82" stroke="#000" stroke-width="1.15"/>
<line x1="45.6" y1="160.41" x2="51.6" y2="160.41" stroke="#000" stroke-width="1.15"/>
<line x1="371.1" y1="160.41" x2="365.1" y2="160.41" stroke="#000" stroke-width="1.15"/>
<line x1="45.6" y1="152.56" x2="51.6" y2="152.56" stroke="#000" stroke-width="1.15"/>
<line x1="371.1" y1="152.56" x2="365.1" y2="152.56" stroke="#000" stroke-width="1.15"/>
<line x1="45.6" y1="146.99" x2="51.6" y2="146.99" stroke="#000" stroke-width="1.15"/>
<line x1="371.1" y1="146.99" x2="365.1" y2="146.99" stroke="#000" stroke-width="1.15"/>
<line x1="45.6" y1="142.67" x2="51.6" y2="142.67" stroke="#000" stroke-width="1.15"/>
<line x1="371.1" y1="142.67" x2="365.1" y2="142.67" stroke="#000" stroke-width="1.15"/>
<line x1="45.6" y1="139.15" x2="51.6" y2="139.15" stroke="#000" stroke-width="1.15"/>
<line x1="371.1" y1="139.15" x2="365.1" y2="139.15" stroke="#000" stroke-width="1.15"/>
<line x1="45.6" y1="136.16" x2="51.6" y2="136.16" stroke="#000" stroke-width="1.15"/>
<line x1="371.1" y1="136.16" x2="365.1" y2="136.16" stroke="#000" stroke-width="1.15"/>
<line x1="45.6" y1="133.58" x2="51.6" y2="133.58" stroke="#000" stroke-width="1.15"/>
<line x1="371.1" y1="133.58" x2="365.1" y2="133.58" stroke="#000" stroke-width="1.15"/>
<line x1="45.6" y1="131.3" x2="51.6" y2="131.3" stroke="#000" stroke-width="1.15"/>
<line x1="371.1" y1="131.3" x2="365.1" y2="131.3" stroke="#000" stroke-width="1.15"/>
<line x1="45.6" y1="129.26" x2="56.6" y2="129.26" stroke="#000" stroke-width="1.15"/>
<line x1="371.1" y1="129.26" x2="360.1" y2="129.26" stroke="#000" stroke-width="1.15"/>
<line x1="45.6" y1="115.85" x2="51.6" y2="115.85" stroke="#000" stroke-width="1.15"/>
<line x1="371.1" y1="115.85" x2="365.1" y2="115.85" stroke="#000" stroke-width="1.15"/>
<line x1="45.6" y1="108" x2="51.6" y2="108" stroke="#000" stroke-width="1.15"/>
<line x1="371.1" y1="108" x2="365.1" y2="108" stroke="#000" stroke-width="1.15"/>
<line x1="45.6" y1="102.43" x2="51.6" y2="102.43" stroke="#000" stroke-width="1.15"/>
<line x1="371.1" y1="102.43" x2="365.1" y2="102.43" stroke="#000" stroke-width="1.15"/>
<line x1="45.6" y1="98.11" x2="51.6" y2="98.11" stroke="#000" stroke-width="1.15"/>
<line x1="371.1" y1="98.11" x2="365.1" y2="98.11" stroke="#000" stroke-width="1.15"/>
<line x1="45.6" y1="94.59" x2="51.6" y2="94.59" stroke="#000" stroke-width="1.15"/>
<line x1="371.1" y1="94.59" x2="365.1" y2="94.59" stroke="#000" stroke-width="1.15"/>
<line x1="45.6" y1="91.6" x2="51.6" y2="91.6" stroke="#000" stroke-width="1.15"/>
<line x1="371.1" y1="91.6" x2="365.1" y2="91.6" stroke="#000" stroke-width="1.15"/>
<line x1="45.6" y1="89.02" x2="51.6" y2="89.02" stroke="#000" stroke-width="1.15"/>
<line x1="371.1" y1="89.02" x2="365.1" y2="89.02" stroke="#000" stroke-width="1.15"/>
<line x1="45.6" y1="86.74" x2="51.6" y2="86.74" stroke="#000" stroke-width="1.15"/>
<line x1="371.1" y1="86.74" x2="365.1" y2="86.74" stroke="#000" stroke-width="1.15"/>
<line x1="45.6" y1="84.7" x2="56.6" y2="84.7" stroke="#000" stroke-width="1.15"/>
<line x1="371.1" y1="84.7" x2="360.1" y2="84.7" stroke="#000" stroke-width="1.15"/>
<line x1="45.6" y1="71.29" x2="51.6" y2="71.29" stroke="#000" stroke-width="1.15"/>
<line x1="371.1" y1="71.29" x2="365.1" y2="71.29" stroke="#000" stroke-width="1.15"/>
<line x1="45.6" y1="63.44" x2="51.6" y2="63.44" stroke="#000" stroke-width="1.15"/>
<line x1="371.1" y1="63.44" x2="365.1" y2="63.44" stroke="#000" stroke-width="1.15"/>
<line x1="45.6" y1="57.87" x2="51.6" y2="57.87" stroke="#000" stroke-width="1.15"/>
<line x1="371.1" y1="57.87" x2="365.1" y2="57.87" stroke="#000" stroke-width="1.15"/>
<line x1="45.6" y1="53.55" x2="51.6" y2="53.55" stroke="#000" stroke-width="1.15"/>
<line x1="371.1" y1="53.55" x2="365.1" y2="53.55" stroke="#000" stroke-width="1.15"/>
<line x1="45.6" y1="50.03" x2="51.6" y2="50.03" stroke="#000" stroke-width="1.15"/>
<line x1="371.1" y1="50.03" x2="365.1" y2="50.03" stroke="#000" stroke-width="1.15"/>
<line x1="45.6" y1="47.04" x2="51.6" y2="47.04" stroke="#000" stroke-width="1.15"/>
<line x1="371.1" y1="47.04" x2="365.1" y2="47.04" stroke="#000" stroke-width="1.15"/>
<line x1="45.6" y1="44.46" x2="51.6" y2="44.46" stroke="#000" stroke-width="1.15"/>
<line x1="371.1" y1="44.46" x2="365.1" y2="44.46" stroke="#000" stroke-width="1.15"/>
<line x1="45.6" y1="42.18" x2="51.6" y2="42.18" stroke="#000" stroke-width="1.15"/>
<line x1="371.1" y1="42.18" x2="365.1" y2="42.18" stroke="#000" stroke-width="1.15"/>
<line x1="45.6" y1="40.14" x2="56.6" y2="40.14" stroke="#000" stroke-width="1.15"/>
<line x1="371.1" y1="40.14" x2="360.1" y2="40.14" stroke="#000" stroke-width="1.15"/>
<line x1="45.6" y1="26.73" x2="51.6" y2="26.73" stroke="#000" stroke-width="1.15"/>
<line x1="371.1" y1="26.73" x2="365.1" y2="26.73" stroke="#000" stroke-width="1.15"/>
<line x1="45.6" y1="18.88" x2="51.6" y2="18.88" stroke="#000" stroke-width="1.15"/>
<line x1="371.1" y1="18.88" x2="365.1" y2="18.88" stroke="#000" stroke-width="1.15"/>
<line x1="51.7" y1="17.5" x2="51.7" y2="25.8" stroke="#000" stroke-width="1.15"/>
<line x1="51.7" y1="317.4" x2="51.7" y2="309.1" stroke="#000" stroke-width="1.15"/>
<line x1="51.7" y1="317.4" x2="51.7" y2="322.4" stroke="#000" stroke-width="1.15"/>
<line x1="51.7" y1="477.6" x2="51.7" y2="472.6" stroke="#000" stroke-width="1.15"/>
<line x1="71.28" y1="17.5" x2="71.28" y2="21.5" stroke="#000" stroke-width="1.15"/>
<line x1="71.28" y1="317.4" x2="71.28" y2="313.4" stroke="#000" stroke-width="1.15"/>
<line x1="71.28" y1="317.4" x2="71.28" y2="319.9" stroke="#000" stroke-width="1.15"/>
<line x1="71.28" y1="477.6" x2="71.28" y2="475.1" stroke="#000" stroke-width="1.15"/>
<line x1="90.85" y1="17.5" x2="90.85" y2="21.5" stroke="#000" stroke-width="1.15"/>
<line x1="90.85" y1="317.4" x2="90.85" y2="313.4" stroke="#000" stroke-width="1.15"/>
<line x1="90.85" y1="317.4" x2="90.85" y2="319.9" stroke="#000" stroke-width="1.15"/>
<line x1="90.85" y1="477.6" x2="90.85" y2="475.1" stroke="#000" stroke-width="1.15"/>
<line x1="110.42" y1="17.5" x2="110.42" y2="21.5" stroke="#000" stroke-width="1.15"/>
<line x1="110.42" y1="317.4" x2="110.42" y2="313.4" stroke="#000" stroke-width="1.15"/>
<line x1="110.42" y1="317.4" x2="110.42" y2="319.9" stroke="#000" stroke-width="1.15"/>
<line x1="110.42" y1="477.6" x2="110.42" y2="475.1" stroke="#000" stroke-width="1.15"/>
<line x1="130" y1="17.5" x2="130" y2="25.8" stroke="#000" stroke-width="1.15"/>
<line x1="130" y1="317.4" x2="130" y2="309.1" stroke="#000" stroke-width="1.15"/>
<line x1="130" y1="317.4" x2="130" y2="322.4" stroke="#000" stroke-width="1.15"/>
<line x1="130" y1="477.6" x2="130" y2="472.6" stroke="#000" stroke-width="1.15"/>
<line x1="149.57" y1="17.5" x2="149.57" y2="21.5" stroke="#000" stroke-width="1.15"/>
<line x1="149.57" y1="317.4" x2="149.57" y2="313.4" stroke="#000" stroke-width="1.15"/>
<line x1="149.57" y1="317.4" x2="149.57" y2="319.9" stroke="#000" stroke-width="1.15"/>
<line x1="149.57" y1="477.6" x2="149.57" y2="475.1" stroke="#000" stroke-width="1.15"/>
<line x1="169.15" y1="17.5" x2="169.15" y2="21.5" stroke="#000" stroke-width="1.15"/>
<line x1="169.15" y1="317.4" x2="169.15" y2="313.4" stroke="#000" stroke-width="1.15"/>
<line x1="169.15" y1="317.4" x2="169.15" y2="319.9" stroke="#000" stroke-width="1.15"/>
<line x1="169.15" y1="477.6" x2="169.15" y2="475.1" stroke="#000" stroke-width="1.15"/>
<line x1="188.73" y1="17.5" x2="188.73" y2="21.5" stroke="#000" stroke-width="1.15"/>
<line x1="188.73" y1="317.4" x2="188.73" y2="313.4" stroke="#000" stroke-width="1.15"/>
<line x1="188.73" y1="317.4" x2="188.73" y2="319.9" stroke="#000" stroke-width="1.15"/>
<line x1="188.73" y1="477.6" x2="188.73" y2="475.1" stroke="#000" stroke-width="1.15"/>
<line x1="208.3" y1="17.5" x2="208.3" y2="25.8" stroke="#000" stroke-width="1.15"/>
<line x1="208.3" y1="317.4" x2="208.3" y2="309.1" stroke="#000" stroke-width="1.15"/>
<line x1="208.3" y1="317.4" x2="208.3" y2="322.4" stroke="#000" stroke-width="1.15"/>
<line x1="208.3" y1="477.6" x2="208.3" y2="472.6" stroke="#000" stroke-width="1.15"/>
<line x1="227.88" y1="17.5" x2="227.88" y2="21.5" stroke="#000" stroke-width="1.15"/>
<line x1="227.88" y1="317.4" x2="227.88" y2="313.4" stroke="#000" stroke-width="1.15"/>
<line x1="227.88" y1="317.4" x2="227.88" y2="319.9" stroke="#000" stroke-width="1.15"/>
<line x1="227.88" y1="477.6" x2="227.88" y2="475.1" stroke="#000" stroke-width="1.15"/>
<line x1="247.45" y1="17.5" x2="247.45" y2="21.5" stroke="#000" stroke-width="1.15"/>
<line x1="247.45" y1="317.4" x2="247.45" y2="313.4" stroke="#000" stroke-width="1.15"/>
<line x1="247.45" y1="317.4" x2="247.45" y2="319.9" stroke="#000" stroke-width="1.15"/>
<line x1="247.45" y1="477.6" x2="247.45" y2="475.1" stroke="#000" stroke-width="1.15"/>
<line x1="267.02" y1="17.5" x2="267.02" y2="21.5" stroke="#000" stroke-width="1.15"/>
<line x1="267.02" y1="317.4" x2="267.02" y2="313.4" stroke="#000" stroke-width="1.15"/>
<line x1="267.02" y1="317.4" x2="267.02" y2="319.9" stroke="#000" stroke-width="1.15"/>
<line x1="267.02" y1="477.6" x2="267.02" y2="475.1" stroke="#000" stroke-width="1.15"/>
<line x1="286.6" y1="17.5" x2="286.6" y2="25.8" stroke="#000" stroke-width="1.15"/>
<line x1="286.6" y1="317.4" x2="286.6" y2="309.1" stroke="#000" stroke-width="1.15"/>
<line x1="286.6" y1="317.4" x2="286.6" y2="322.4" stroke="#000" stroke-width="1.15"/>
<line x1="286.6" y1="477.6" x2="286.6" y2="472.6" stroke="#000" stroke-width="1.15"/>
<line x1="306.18" y1="17.5" x2="306.18" y2="21.5" stroke="#000" stroke-width="1.15"/>
<line x1="306.18" y1="317.4" x2="306.18" y2="313.4" stroke="#000" stroke-width="1.15"/>
<line x1="306.18" y1="317.4" x2="306.18" y2="319.9" stroke="#000" stroke-width="1.15"/>
<line x1="306.18" y1="477.6" x2="306.18" y2="475.1" stroke="#000" stroke-width="1.15"/>
<line x1="325.75" y1="17.5" x2="325.75" y2="21.5" stroke="#000" stroke-width="1.15"/>
<line x1="325.75" y1="317.4" x2="325.75" y2="313.4" stroke="#000" stroke-width="1.15"/>
<line x1="325.75" y1="317.4" x2="325.75" y2="319.9" stroke="#000" stroke-width="1.15"/>
<line x1="325.75" y1="477.6" x2="325.75" y2="475.1" stroke="#000" stroke-width="1.15"/>
<line x1="345.32" y1="17.5" x2="345.32" y2="21.5" stroke="#000" stroke-width="1.15"/>
<line x1="345.32" y1="317.4" x2="345.32" y2="313.4" stroke="#000" stroke-width="1.15"/>
<line x1="345.32" y1="317.4" x2="345.32" y2="319.9" stroke="#000" stroke-width="1.15"/>
<line x1="345.32" y1="477.6" x2="345.32" y2="475.1" stroke="#000" stroke-width="1.15"/>
<line x1="364.9" y1="17.5" x2="364.9" y2="25.8" stroke="#000" stroke-width="1.15"/>
<line x1="364.9" y1="317.4" x2="364.9" y2="309.1" stroke="#000" stroke-width="1.15"/>
<line x1="364.9" y1="317.4" x2="364.9" y2="322.4" stroke="#000" stroke-width="1.15"/>
<line x1="364.9" y1="477.6" x2="364.9" y2="472.6" stroke="#000" stroke-width="1.15"/>
<line x1="45.6" y1="458.49" x2="52.6" y2="458.49" stroke="#000" stroke-width="1.15"/>
<line x1="371.1" y1="458.49" x2="364.1" y2="458.49" stroke="#000" stroke-width="1.15"/>
<line x1="45.6" y1="442.53" x2="50.6" y2="442.53" stroke="#000" stroke-width="1.15"/>
<line x1="371.1" y1="442.53" x2="366.1" y2="442.53" stroke="#000" stroke-width="1.15"/>
<line x1="45.6" y1="429.04" x2="50.6" y2="429.04" stroke="#000" stroke-width="1.15"/>
<line x1="371.1" y1="429.04" x2="366.1" y2="429.04" stroke="#000" stroke-width="1.15"/>
<line x1="45.6" y1="417.36" x2="50.6" y2="417.36" stroke="#000" stroke-width="1.15"/>
<line x1="371.1" y1="417.36" x2="366.1" y2="417.36" stroke="#000" stroke-width="1.15"/>
<line x1="45.6" y1="407.05" x2="50.6" y2="407.05" stroke="#000" stroke-width="1.15"/>
<line x1="371.1" y1="407.05" x2="366.1" y2="407.05" stroke="#000" stroke-width="1.15"/>
<line x1="45.6" y1="397.83" x2="52.6" y2="397.83" stroke="#000" stroke-width="1.15"/>
<line x1="371.1" y1="397.83" x2="364.1" y2="397.83" stroke="#000" stroke-width="1.15"/>
<line x1="45.6" y1="389.49" x2="50.6" y2="389.49" stroke="#000" stroke-width="1.15"/>
<line x1="371.1" y1="389.49" x2="366.1" y2="389.49" stroke="#000" stroke-width="1.15"/>
<line x1="45.6" y1="381.87" x2="50.6" y2="381.87" stroke="#000" stroke-width="1.15"/>
<line x1="371.1" y1="381.87" x2="366.1" y2="381.87" stroke="#000" stroke-width="1.15"/>
<line x1="45.6" y1="374.87" x2="50.6" y2="374.87" stroke="#000" stroke-width="1.15"/>
<line x1="371.1" y1="374.87" x2="366.1" y2="374.87" stroke="#000" stroke-width="1.15"/>
<line x1="45.6" y1="368.39" x2="50.6" y2="368.39" stroke="#000" stroke-width="1.15"/>
<line x1="371.1" y1="368.39" x2="366.1" y2="368.39" stroke="#000" stroke-width="1.15"/>
<line x1="45.6" y1="362.35" x2="50.6" y2="362.35" stroke="#000" stroke-width="1.15"/>
<line x1="371.1" y1="362.35" x2="366.1" y2="362.35" stroke="#000" stroke-width="1.15"/>
<line x1="45.6" y1="356.7" x2="50.6" y2="356.7" stroke="#000" stroke-width="1.15"/>
<line x1="371.1" y1="356.7" x2="366.1" y2="356.7" stroke="#000" stroke-width="1.15"/>
<line x1="45.6" y1="351.39" x2="50.6" y2="351.39" stroke="#000" stroke-width="1.15"/>
<line x1="371.1" y1="351.39" x2="366.1" y2="351.39" stroke="#000" stroke-width="1.15"/>
<line x1="45.6" y1="346.39" x2="50.6" y2="346.39" stroke="#000" stroke-width="1.15"/>
<line x1="371.1" y1="346.39" x2="366.1" y2="346.39" stroke="#000" stroke-width="1.15"/>
<line x1="45.6" y1="341.66" x2="50.6" y2="341.66" stroke="#000" stroke-width="1.15"/>
<line x1="371.1" y1="341.66" x2="366.1" y2="341.66" stroke="#000" stroke-width="1.15"/>
<line x1="45.6" y1="337.17" x2="52.6" y2="337.17" stroke="#000" stroke-width="1.15"/>
<line x1="371.1" y1="337.17" x2="364.1" y2="337.17" stroke="#000" stroke-width="1.15"/>
<line x1="45.6" y1="332.9" x2="50.6" y2="332.9" stroke="#000" stroke-width="1.15"/>
<line x1="371.1" y1="332.9" x2="366.1" y2="332.9" stroke="#000" stroke-width="1.15"/>
<line x1="45.6" y1="328.83" x2="50.6" y2="328.83" stroke="#000" stroke-width="1.15"/>
<line x1="371.1" y1="328.83" x2="366.1" y2="328.83" stroke="#000" stroke-width="1.15"/>
<line x1="45.6" y1="324.94" x2="50.6" y2="324.94" stroke="#000" stroke-width="1.15"/>
<line x1="371.1" y1="324.94" x2="366.1" y2="324.94" stroke="#000" stroke-width="1.15"/>
<line x1="45.6" y1="321.22" x2="50.6" y2="321.22" stroke="#000" stroke-width="1.15"/>
<line x1="371.1" y1="321.22" x2="366.1" y2="321.22" stroke="#000" stroke-width="1.15"/>
<line x1="45.6" y1="317.65" x2="50.6" y2="317.65" stroke="#000" stroke-width="1.15"/>
<line x1="371.1" y1="317.65" x2="366.1" y2="317.65" stroke="#000" stroke-width="1.15"/>
<rect x="32.34" y="215.63" width="3.5" height="0.75" fill="#000"/>
<rect x="32.16" y="260.19" width="3.5" height="0.75" fill="#000"/>
<rect x="32" y="304.75" width="3.5" height="0.75" fill="#000"/>
<rect x="246.9" y="36.8" width="6.5" height="0.85" fill="#000"/><rect x="246.9" y="39.2" width="6.5" height="0.85" fill="#000"/>
<rect x="73.7" y="221.2" width="5.6" height="5.6" fill="#000"/>
<line x1="64" y1="236.8" x2="88.5" y2="236.8" stroke="#a9560f" stroke-width="0.85" opacity="0.75" stroke-dasharray="2.2,1.9"/><circle cx="76.3" cy="236.8" r="2.55" fill="#fff" stroke="#a9560f" stroke-width="1.3"/>
<line x1="64" y1="249.9" x2="88.5" y2="249.9" stroke="#3c9614" stroke-width="0.85" opacity="0.75" stroke-dasharray="2.2,1.9"/><rect x="73.75" y="247.25" width="5.3" height="5.3" fill="none" stroke="#3c9614" stroke-width="1.0"/>
<line x1="64" y1="263.1" x2="88.5" y2="263.1" stroke="#0000ee" stroke-width="1.0" opacity="0.8"/><path d="M73.75,265.55 L79.05,265.55 L76.4,260.65 Z" fill="#0000ee"/>
<line x1="64" y1="275.8" x2="88.5" y2="275.8" stroke="#ff0000" stroke-width="0.9" opacity="0.75" stroke-dasharray="0.9,1.1"/><path d="M76.4,272.7 L78.6,275.8 L76.4,278.9 L74.2,275.8 Z" fill="#ff0000"/>
<text x="50.66" y="13.6" font-size="12.25" text-anchor="start" fill="#000">7000 GeV pp</text>
<text x="314.69" y="13.6" font-size="12.1" text-anchor="start" fill="#000">Soft QCD</text>
<text x="34.9" y="40.44" font-size="8.0" text-anchor="start" fill="#000">3</text>
<text x="22.9" y="45.24" font-size="11.1" text-anchor="start" fill="#000">10</text>
<text x="34.96" y="85" font-size="8.0" text-anchor="start" fill="#000">2</text>
<text x="23.06" y="89.8" font-size="11.1" text-anchor="start" fill="#000">10</text>
<text x="28.1" y="133.46" font-size="11.1" text-anchor="start" fill="#000">10</text>
<text x="33.97" y="178.02" font-size="11.1" text-anchor="start" fill="#000">1</text>
<text x="35.54" y="218.68" font-size="8.0" text-anchor="start" fill="#000">1</text>
<text x="20.34" y="223.48" font-size="11.1" text-anchor="start" fill="#000">10</text>
<text x="35.56" y="263.24" font-size="8.0" text-anchor="start" fill="#000">2</text>
<text x="20.16" y="268.04" font-size="11.1" text-anchor="start" fill="#000">10</text>
<text x="35.5" y="307.8" font-size="8.0" text-anchor="start" fill="#000">3</text>
<text x="20" y="312.6" font-size="11.1" text-anchor="start" fill="#000">10</text>
<text x="32.59" y="341.17" font-size="11.1" text-anchor="start" fill="#000">2</text>
<text x="374.05" y="341.17" font-size="11.1" text-anchor="start" fill="#000">2</text>
<text x="32.57" y="401.83" font-size="11.1" text-anchor="start" fill="#000">1</text>
<text x="373.77" y="401.83" font-size="11.1" text-anchor="start" fill="#000">1</text>
<text x="23.22" y="462.49" font-size="11.1" text-anchor="start" fill="#000">0.5</text>
<text x="374.16" y="462.49" font-size="11.1" text-anchor="start" fill="#000">0.5</text>
<text x="51.7" y="488.9" font-size="11.1" text-anchor="middle" fill="#000">0</text>
<text x="130" y="488.9" font-size="11.1" text-anchor="middle" fill="#000">2</text>
<text x="208.3" y="488.9" font-size="11.1" text-anchor="middle" fill="#000">4</text>
<text x="286.6" y="488.9" font-size="11.1" text-anchor="middle" fill="#000">6</text>
<text x="364.9" y="488.9" font-size="11.1" text-anchor="middle" fill="#000">8</text>
<text x="370.8" y="504.7" font-size="11.6" text-anchor="end">Δη<tspan font-size="8.2" dy="-6">F</tspan></text>
<text transform="translate(16.7,17) rotate(-90)" x="0" y="0" font-size="12" text-anchor="end">dσ / dΔη<tspan font-size="8.4" dy="-6">F</tspan><tspan dy="6" dx="-1.1"> [mb]</tspan></text>
<text transform="translate(18.3,397.1) rotate(-90)" x="0" y="0" font-size="9.0" text-anchor="middle">Ratio to ATLAS</text>
<text transform="translate(380.3,126.5) rotate(-90)" x="0" y="0" font-size="9.3" fill="#707070">Rivet 4.1.0, ≥ 100k events</text>
<text transform="translate(380.7,312.9) rotate(-90)" x="0" y="0" font-size="9.3" fill="#707070">mcplots.cern.ch [arXiv:2401.10621]</text>
<text x="54.09" y="40.8" font-size="12.2" text-anchor="start" fill="#000">Rapidity</text>
<text x="100.88" y="40.8" font-size="12.2" text-anchor="start" fill="#000">gap</text>
<text x="124.46" y="40.8" font-size="12.2" text-anchor="start" fill="#000">size</text>
<text x="149.18" y="40.8" font-size="12.2" text-anchor="start" fill="#000">in</text>
<text x="168.76" y="40.8" font-size="12.2" text-anchor="start" fill="#000">starting</text>
<text x="212.42" y="40.8" font-size="12.2" text-anchor="start" fill="#000">from</text>
<text x="266.83" y="40.8" font-size="12.2" text-anchor="start" fill="#000">4.9,</text>
<text x="314.43" y="40.8" font-size="12.2" text-anchor="start" fill="#000">400</text>
<text x="338.39" y="40.8" font-size="12.2" text-anchor="start" fill="#000">MeV</text>
<text x="158.97" y="41.1" font-size="12.2" text-anchor="start" fill="#000">η</text>
<text x="237" y="41.1" font-size="12.2" text-anchor="start" fill="#000">η</text>
<text x="255.6" y="41.3" font-size="12.2" text-anchor="start" fill="#000">±</text>
<text x="295.81" y="47.7" font-size="8.5" text-anchor="start" fill="#000">T</text>
<text x="289.61" y="41.8" font-size="12.2" text-anchor="start" fill="#000">p</text>
<text x="304.49" y="42.3" font-size="12.2" text-anchor="start" fill="#000">></text>
<text x="162.7" y="302" font-size="8.0" text-anchor="start" fill="#999">(ATLAS_2012_I1084540)</text>
<text x="94.3" y="227.3" font-size="9.3" text-anchor="start" fill="#000">ATLAS</text>
<text x="94.3" y="240.1" font-size="9.3" text-anchor="start" fill="#000">Herwig++ 2.7.1 default</text>
<text x="94.3" y="253.2" font-size="9.3" text-anchor="start" fill="#000">Herwig 7.2.1 default</text>
<text x="94.3" y="266.4" font-size="9.3" text-anchor="start" fill="#000">Pythia 8.315 default</text>
<text x="94.3" y="279.1" font-size="9.3" text-anchor="start" fill="#000">Sherpa 2.2.9 default</text>
</svg>
</body></html>
